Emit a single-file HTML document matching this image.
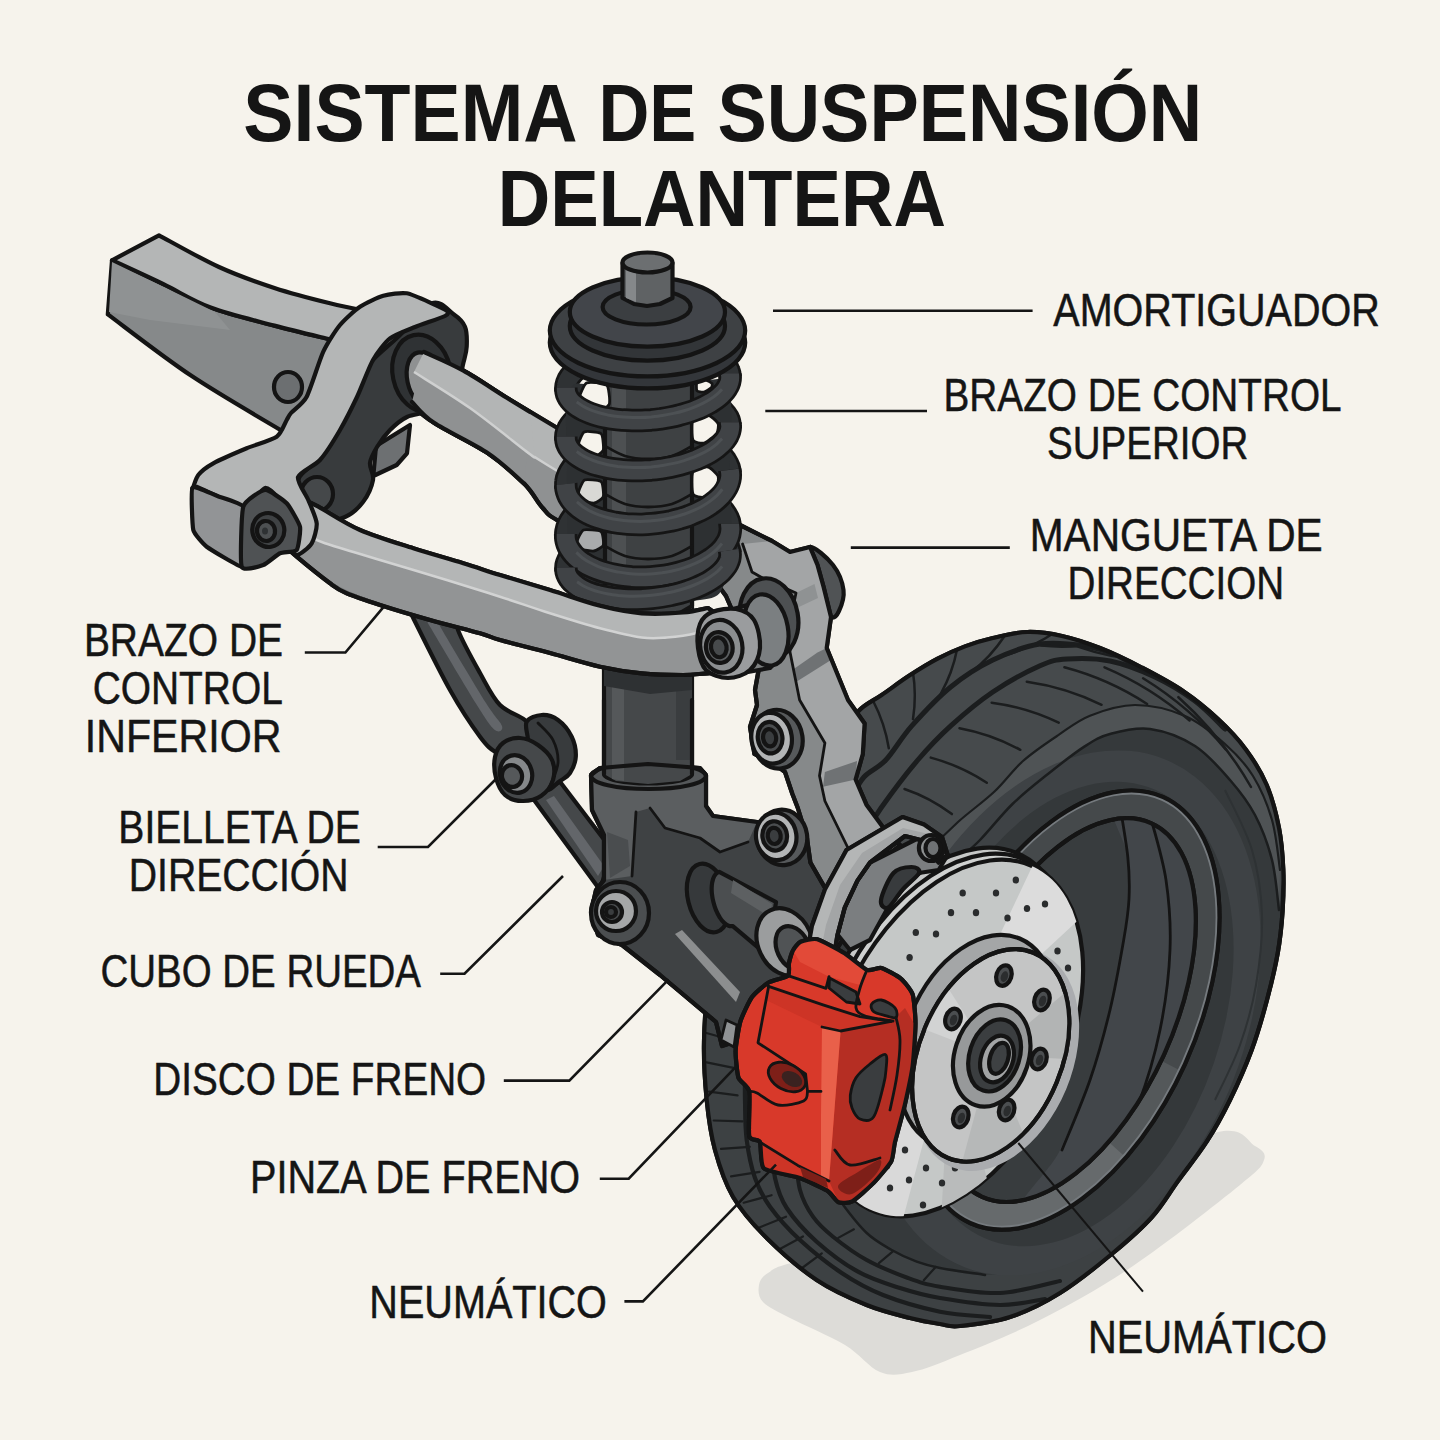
<!DOCTYPE html>
<html lang="es">
<head>
<meta charset="utf-8">
<title>Sistema de suspensión delantera</title>
<style>
html,body{margin:0;padding:0;background:#f6f3ec;}
body{width:1440px;height:1440px;overflow:hidden;font-family:"Liberation Sans",sans-serif;}
svg{display:block;font-family:"Liberation Sans",sans-serif;}
.o{stroke:#141414;stroke-width:4.2;stroke-linejoin:round;stroke-linecap:round;}
.t{stroke:#141414;stroke-width:2.8;stroke-linejoin:round;stroke-linecap:round;}
.ld{stroke:#151515;stroke-width:2.6;fill:none;stroke-linejoin:miter;stroke-linecap:butt;}
</style>
</head>
<body>
<svg width="1440" height="1440" viewBox="0 0 1440 1440">
<rect x="0" y="0" width="1440" height="1440" fill="#f6f3ec"/>
<path d="M759 1285C759.8 1280.2 762 1276.8 768 1273C774 1269.2 773 1267.5 795 1262C817 1256.5 849.2 1253.7 900 1240C950.8 1226.3 1047 1198 1100 1180C1153 1162 1192.2 1137.7 1218 1132C1243.8 1126.3 1247.3 1141.3 1255 1146C1262.7 1150.7 1266.5 1153.5 1264 1160C1261.5 1166.5 1261.8 1167.3 1240 1185C1218.2 1202.7 1166.3 1243.5 1133 1266C1099.7 1288.5 1068.8 1305.2 1040 1320C1011.2 1334.8 981.3 1346.3 960 1355C938.7 1363.7 925.3 1369.2 912 1372C898.7 1374.8 891.2 1376.5 880 1372C868.8 1367.5 860 1354 845 1345C830 1336 803.7 1325.2 790 1318C776.3 1310.8 768.2 1307.5 763 1302C757.8 1296.5 758.2 1289.8 759 1285Z" fill="#dddcd8"/>
<path d="M860.8 708.9C866.4 703.7 873.6 700.5 881.7 695C889.8 689.5 900.1 681.6 909.4 675.6C918.6 669.6 927.9 663.8 937.2 658.9C946.5 654 955.7 649.9 965 646.4C974.3 642.9 982.4 640.4 992.8 638C1003.2 635.6 1016 632.3 1027.5 632C1039 631.7 1049.9 633.3 1062 636C1074.1 638.7 1086.7 642.8 1100 648C1113.3 653.2 1127.9 660.3 1141.7 667.5C1155.5 674.7 1170.3 682.4 1183 691C1195.7 699.6 1207.5 709.3 1218 719C1228.5 728.7 1237.7 738.4 1245.8 749.4C1253.9 760.4 1261.2 771.9 1266.7 785C1272.2 798.1 1276.2 813.7 1279 827.8C1281.8 841.9 1282.7 855.5 1283.3 869.4C1283.9 883.3 1283.5 897.1 1282.6 911C1281.7 924.9 1280.4 938 1277.8 952.8C1275.2 967.6 1271.3 983.8 1267 1000C1262.7 1016.2 1257.9 1033.3 1251.7 1050C1245.5 1066.7 1237.5 1084.7 1230 1100C1222.5 1115.3 1215.4 1128.2 1206.7 1141.7C1198 1155.2 1187.1 1168.5 1178 1181C1168.9 1193.5 1162.8 1205 1152 1217C1141.2 1229 1128.3 1240.3 1113 1253C1097.7 1265.7 1077.2 1282.3 1060 1293C1042.8 1303.7 1026.7 1311.5 1010 1317C993.3 1322.5 971.7 1324.8 960 1326C948.3 1327.2 948.3 1325.3 940 1324C931.7 1322.7 922.2 1321.2 910 1318C897.8 1314.8 882.2 1311.3 866.7 1305C851.2 1298.7 833.4 1291.2 816.7 1280C800 1268.8 780.7 1251.9 766.7 1238C752.8 1224.1 741.6 1211.4 733 1196.7C724.4 1182 719.4 1166.1 715 1150C710.6 1133.9 708.5 1118 706.7 1100C704.9 1082 703.6 1061.5 704 1042C704.4 1022.5 705.3 1002.5 709 983C712.7 963.5 717.5 944.2 726 925C734.5 905.8 747.3 886.8 760 868C772.7 849.2 790.7 828.7 802 812C813.3 795.3 820.3 782.3 828 768C835.7 753.7 842.5 735.9 848 726C853.5 716.1 855.2 714.1 860.8 708.9Z" class="o" fill="#35393b"/>
<clipPath id="tc"><path d="M860.8 708.9C866.4 703.7 873.6 700.5 881.7 695C889.8 689.5 900.1 681.6 909.4 675.6C918.6 669.6 927.9 663.8 937.2 658.9C946.5 654 955.7 649.9 965 646.4C974.3 642.9 982.4 640.4 992.8 638C1003.2 635.6 1016 632.3 1027.5 632C1039 631.7 1049.9 633.3 1062 636C1074.1 638.7 1086.7 642.8 1100 648C1113.3 653.2 1127.9 660.3 1141.7 667.5C1155.5 674.7 1170.3 682.4 1183 691C1195.7 699.6 1207.5 709.3 1218 719C1228.5 728.7 1237.7 738.4 1245.8 749.4C1253.9 760.4 1261.2 771.9 1266.7 785C1272.2 798.1 1276.2 813.7 1279 827.8C1281.8 841.9 1282.7 855.5 1283.3 869.4C1283.9 883.3 1283.5 897.1 1282.6 911C1281.7 924.9 1280.4 938 1277.8 952.8C1275.2 967.6 1271.3 983.8 1267 1000C1262.7 1016.2 1257.9 1033.3 1251.7 1050C1245.5 1066.7 1237.5 1084.7 1230 1100C1222.5 1115.3 1215.4 1128.2 1206.7 1141.7C1198 1155.2 1187.1 1168.5 1178 1181C1168.9 1193.5 1162.8 1205 1152 1217C1141.2 1229 1128.3 1240.3 1113 1253C1097.7 1265.7 1077.2 1282.3 1060 1293C1042.8 1303.7 1026.7 1311.5 1010 1317C993.3 1322.5 971.7 1324.8 960 1326C948.3 1327.2 948.3 1325.3 940 1324C931.7 1322.7 922.2 1321.2 910 1318C897.8 1314.8 882.2 1311.3 866.7 1305C851.2 1298.7 833.4 1291.2 816.7 1280C800 1268.8 780.7 1251.9 766.7 1238C752.8 1224.1 741.6 1211.4 733 1196.7C724.4 1182 719.4 1166.1 715 1150C710.6 1133.9 708.5 1118 706.7 1100C704.9 1082 703.6 1061.5 704 1042C704.4 1022.5 705.3 1002.5 709 983C712.7 963.5 717.5 944.2 726 925C734.5 905.8 747.3 886.8 760 868C772.7 849.2 790.7 828.7 802 812C813.3 795.3 820.3 782.3 828 768C835.7 753.7 842.5 735.9 848 726C853.5 716.1 855.2 714.1 860.8 708.9Z"/></clipPath>
<g clip-path="url(#tc)">
<path d="M751.3 833C753.7 828.9 760.5 816.6 765.4 808.6C770.3 800.6 775.5 792.8 780.8 785.2C786.2 777.6 791.8 770.2 797.5 763C803.3 755.8 809.3 748.8 815.4 742.1C821.5 735.4 827.9 728.8 834.4 722.6C840.8 716.3 847.5 710.3 854.3 704.6C861.1 698.9 868 693.4 875 688.3C882.1 683.1 889.2 678.2 896.5 673.6C903.7 669.1 911.1 664.8 918.5 660.9C925.9 656.9 933.5 653.3 941 650C948.6 646.7 956.2 643.7 963.8 641C971.5 638.4 979.1 636.1 986.8 634.1C994.5 632.1 1002.2 630.5 1009.9 629.3C1017.5 628 1025.2 627.1 1032.8 626.5C1040.4 625.9 1048 625.7 1055.5 625.8C1063 625.9 1070.5 626.4 1077.8 627.3C1085.2 628.1 1092.5 629.3 1099.7 630.8C1106.9 632.3 1113.9 634.2 1120.9 636.4C1127.8 638.6 1134.7 641.2 1141.3 644.1C1148 647 1154.5 650.2 1160.9 653.7C1167.3 657.3 1173.5 661.2 1179.5 665.3C1185.5 669.5 1191.3 674 1196.9 678.8C1202.5 683.6 1208 688.7 1213.2 694.1C1218.4 699.4 1223.3 705.1 1228.1 711C1232.8 716.9 1237.4 723.1 1241.6 729.6C1245.9 736 1249.9 742.7 1253.7 749.6C1257.4 756.5 1260.9 763.7 1264.2 771C1267.4 778.4 1270.4 786 1273 793.7C1275.7 801.4 1278.1 809.4 1280.2 817.4C1282.4 825.5 1284.8 838 1285.7 842.2L1279 910C1277.8 901.7 1276 875.8 1272 860C1268 844.2 1262 828.3 1255 815C1248 801.7 1240 791.5 1230 780C1220 768.5 1208.3 754.5 1195 746C1181.7 737.5 1164.2 731 1150 729C1135.8 727 1120.9 731.1 1110 734C1099.1 736.9 1094.9 739.8 1084.7 746.4C1074.5 753 1060.6 763.9 1048.6 773.5C1036.6 783.1 1023.9 792.9 1012.5 804C1001.1 815.1 990.4 829.3 980 840C969.6 850.7 959.2 858 950 868C940.8 878 929.2 894.7 925 900Z" fill="#464a4c"/>
<path d="M1203 1176.6C1199.8 1180.7 1190.4 1193.2 1183.8 1201.2C1177.1 1209.1 1170.2 1216.7 1163 1224.1C1155.9 1231.4 1148.5 1238.4 1141 1245.1C1133.5 1251.8 1125.8 1258.1 1117.9 1264.1C1110 1270.1 1102 1275.7 1093.8 1280.9C1085.7 1286.1 1077.3 1291 1069 1295.4C1060.6 1299.9 1052.1 1303.9 1043.6 1307.5C1035 1311.1 1026.4 1314.3 1017.8 1317.1C1009.2 1319.9 1000.5 1322.2 991.8 1324.1C983.2 1326 974.5 1327.5 965.9 1328.5C957.3 1329.5 948.7 1330.1 940.1 1330.2C931.6 1330.3 923.2 1330 914.8 1329.2C906.5 1328.5 898.2 1327.2 890.1 1325.6C882 1323.9 874 1321.8 866.2 1319.3C858.4 1316.8 850.7 1313.8 843.2 1310.4C835.8 1307 828.5 1303.2 821.4 1299C814.4 1294.8 807.5 1290.1 800.9 1285.1C794.3 1280.1 788 1274.7 781.9 1268.9C775.8 1263.2 770 1257 764.5 1250.5C759 1244 753.7 1237.2 748.8 1230C743.9 1222.9 739.3 1215.4 735 1207.6C730.7 1199.9 726.8 1191.8 723.2 1183.5C719.6 1175.2 716.3 1166.6 713.4 1157.8C710.5 1149 708 1139.9 705.8 1130.7C703.6 1121.4 701.8 1112 700.3 1102.4C698.9 1092.8 697.8 1083.1 697.1 1073.2C696.5 1063.4 696.1 1053.4 696.2 1043.3C696.3 1033.3 696.7 1023.1 697.5 1012.9C698.3 1002.7 699.5 992.4 701.1 982.2C702.7 972 705.9 956.6 706.9 951.5L760 1000L800 1120C803.3 1128.3 813 1156.2 820 1170C827 1183.8 833.9 1192.5 841.7 1203C849.5 1213.5 858.4 1225.2 866.7 1233C875 1240.8 883.4 1245.2 891.7 1250C900 1254.8 908.7 1258.7 916.7 1261.7C924.8 1264.7 928.6 1265.8 940 1268C951.4 1270.2 965 1275.5 985 1275C1005 1274.5 1037.5 1273.3 1060 1265C1082.5 1256.7 1101.7 1240.8 1120 1225C1138.3 1209.2 1161.7 1179.2 1170 1170Z" fill="#3d4143"/>
<path d="M905 880C909.2 875 921.2 859.7 930 850C938.8 840.3 947.2 831.8 958 822C968.8 812.2 983.7 801.7 994.5 791.5C1005.3 781.3 1012.5 770.3 1023 761C1033.5 751.7 1046.4 743.1 1057.6 735.6C1068.8 728.1 1077.1 720.8 1090 715.7C1102.9 710.6 1119.2 705 1135 705C1150.8 705 1170 709.5 1185 716C1200 722.5 1213.7 734 1225 744C1236.3 754 1245.2 763.3 1253 776C1260.8 788.7 1267.5 804.3 1272 820C1276.5 835.7 1278.7 861.7 1280 870L1279 910C1277.8 901.7 1276 875.8 1272 860C1268 844.2 1262 828.3 1255 815C1248 801.7 1240 791.5 1230 780C1220 768.5 1208.3 754.5 1195 746C1181.7 737.5 1164.2 731 1150 729C1135.8 727 1120.9 731.1 1110 734C1099.1 736.9 1094.9 739.8 1084.7 746.4C1074.5 753 1060.6 763.9 1048.6 773.5C1036.6 783.1 1023.9 792.9 1012.5 804C1001.1 815.1 990.4 829.3 980 840C969.6 850.7 959.2 858 950 868C940.8 878 929.2 894.7 925 900Z" fill="#4f5355"/>
<ellipse cx="1064" cy="1013" rx="273" ry="182" transform="rotate(-68.5 1064 1013)" fill="#3e4245"/>
<ellipse cx="1070" cy="1014" rx="240" ry="152" transform="rotate(-71 1070 1014)" fill="#34383a"/>
<path d="M1225 790C1229.5 800 1245.8 829.2 1252 850C1258.2 870.8 1261.3 892.5 1262 915C1262.7 937.5 1259.7 963.3 1256 985C1252.3 1006.7 1246.8 1025.8 1240 1045C1233.2 1064.2 1219.2 1090.8 1215 1100" fill="none" stroke="#2e3234" stroke-width="2"/>
<path d="M850 800C852.3 796.2 858 783.7 864 777C870 770.3 877.8 768.6 885.8 760C893.8 751.4 901.1 737.8 912 725.6C922.9 713.4 937.5 697.6 951 686.7C964.5 675.8 978 667.1 992.8 660C1007.6 652.9 1024.6 646.3 1040 644C1055.4 641.7 1071.7 644 1085 646C1098.3 648 1109.2 651.8 1120 656C1130.8 660.2 1145 668.5 1150 671" fill="none" stroke="#1b1d1e" stroke-width="5" stroke-linecap="round"/>
<path d="M868 830C870.2 826.3 872.7 819.7 881 808C889.3 796.3 906.1 773.7 917.8 760C929.5 746.3 938.5 736.9 951 725.6C963.5 714.3 978 702 992.8 692C1007.6 682 1027.6 671.3 1040 665.8C1052.4 660.3 1055.3 659.8 1067 659C1078.7 658.2 1095.3 658 1110 661C1124.7 664 1140.8 670.3 1155 677C1169.2 683.7 1183.3 692.3 1195 701C1206.7 709.7 1220 724.3 1225 729" fill="none" stroke="#1b1d1e" stroke-width="5" stroke-linecap="round"/>
<path d="M745 1020C745 1026.7 745 1046.7 745 1060C745 1073.3 744.7 1086.7 745 1100C745.3 1113.3 745 1127 746.7 1140C748.4 1153 751.1 1166.9 755 1178C758.9 1189.1 762.5 1196.4 770 1206.7C777.5 1217 788 1229 800 1240C812 1251 827.9 1263.8 841.7 1273C855.5 1282.2 866.6 1288.5 883 1295C899.4 1301.5 922.2 1308 940 1311.7C957.8 1315.4 981.7 1316.1 990 1317" fill="none" stroke="#1b1d1e" stroke-width="4.2" stroke-linecap="round"/>
<path d="M772 1140C772.5 1146.3 772.5 1166.7 775 1178C777.5 1189.3 779.8 1197.4 786.7 1208C793.7 1218.6 804.8 1231.1 816.7 1241.7C828.6 1252.3 844.1 1264 858 1271.7C871.9 1279.4 886.3 1283.6 900 1288C913.7 1292.4 923.3 1295.2 940 1298C956.7 1300.8 982.5 1304.8 1000 1305C1017.5 1305.2 1037.5 1300 1045 1299" fill="none" stroke="#1b1d1e" stroke-width="4.2" stroke-linecap="round"/>
<path d="M795 1150C795.8 1156.7 797 1178.9 800 1190C803 1201.1 807.5 1208.9 813 1216.7C818.5 1224.5 824 1229.5 833 1236.7C842 1243.9 854.2 1253.1 866.7 1260C879.2 1266.9 895.8 1273.5 908 1278C920.2 1282.5 924.7 1284.2 940 1286.7C955.3 1289.2 980 1294 1000 1293C1020 1292 1050 1283 1060 1281" fill="none" stroke="#1b1d1e" stroke-width="4" stroke-linecap="round"/>
<path d="M905 880C909.2 875 921.2 859.7 930 850C938.8 840.3 947.2 831.8 958 822C968.8 812.2 983.7 801.7 994.5 791.5C1005.3 781.3 1012.5 770.3 1023 761C1033.5 751.7 1046.4 743.1 1057.6 735.6C1068.8 728.1 1077.1 720.8 1090 715.7C1102.9 710.6 1119.2 705 1135 705C1150.8 705 1170 709.5 1185 716C1200 722.5 1213.7 734 1225 744C1236.3 754 1245.2 763.3 1253 776C1260.8 788.7 1267.5 804.3 1272 820C1276.5 835.7 1278.7 861.7 1280 870" fill="none" stroke="#1b1d1e" stroke-width="2.2" stroke-linecap="round"/>
<path d="M925 900C929.2 894.7 940.8 878 950 868C959.2 858 969.6 850.7 980 840C990.4 829.3 1001.1 815.1 1012.5 804C1023.9 792.9 1036.6 783.1 1048.6 773.5C1060.6 763.9 1074.5 753 1084.7 746.4C1094.9 739.8 1099.1 736.9 1110 734C1120.9 731.1 1135.8 727 1150 729C1164.2 731 1181.7 737.5 1195 746C1208.3 754.5 1220 768.5 1230 780C1240 791.5 1248 801.7 1255 815C1262 828.3 1268 844.2 1272 860C1276 875.8 1277.8 901.7 1279 910" fill="none" stroke="#1b1d1e" stroke-width="2.5" stroke-linecap="round"/>
<path d="M800 1120C803.3 1128.3 813 1156.2 820 1170C827 1183.8 833.9 1192.5 841.7 1203C849.5 1213.5 858.4 1225.2 866.7 1233C875 1240.8 883.4 1245.2 891.7 1250C900 1254.8 908.7 1258.7 916.7 1261.7C924.8 1264.7 928.6 1265.8 940 1268C951.4 1270.2 977.5 1273.8 985 1275" fill="none" stroke="#1b1d1e" stroke-width="2.5" stroke-linecap="round"/>
<path d="M873.3 701.3Q884.8 723.5 888.8 748.2" fill="none" stroke="#1b1d1e" stroke-width="2.5" stroke-linecap="round"/>
<path d="M912.9 671.8Q916.7 695.5 913 719.1" fill="none" stroke="#1b1d1e" stroke-width="2.5" stroke-linecap="round"/>
<path d="M957 649.6Q952.5 672.9 940.9 693.5" fill="none" stroke="#1b1d1e" stroke-width="2.5" stroke-linecap="round"/>
<path d="M1004.4 636.2Q990.8 656.7 971.5 671.9" fill="none" stroke="#1b1d1e" stroke-width="2.5" stroke-linecap="round"/>
<path d="M1053.5 633.3Q1031 648.1 1005 655.2" fill="none" stroke="#1b1d1e" stroke-width="2.5" stroke-linecap="round"/>
<path d="M1101.8 642.5Q1071.8 648.9 1041.2 645.6" fill="none" stroke="#1b1d1e" stroke-width="2.5" stroke-linecap="round"/>
<path d="M1148 660Q1112.2 659 1078.6 646.9" fill="none" stroke="#1b1d1e" stroke-width="2.5" stroke-linecap="round"/>
<path d="M1189.9 685.7Q1150.1 676.6 1115.1 655.6" fill="none" stroke="#1b1d1e" stroke-width="2.5" stroke-linecap="round"/>
<path d="M904.5 789Q930.2 797.7 951.9 814.1" fill="none" stroke="#1b1d1e" stroke-width="2.5" stroke-linecap="round"/>
<path d="M930.8 757.6Q960.8 765.7 986.8 782.7" fill="none" stroke="#1b1d1e" stroke-width="2.5" stroke-linecap="round"/>
<path d="M959.5 728.2Q991.6 734.1 1020.3 749.8" fill="none" stroke="#1b1d1e" stroke-width="2.5" stroke-linecap="round"/>
<path d="M991.7 702.7Q1026.8 707.3 1058.7 722.7" fill="none" stroke="#1b1d1e" stroke-width="2.5" stroke-linecap="round"/>
<path d="M1026.8 681.7Q1066 687.3 1101.6 704.8" fill="none" stroke="#1b1d1e" stroke-width="2.5" stroke-linecap="round"/>
<path d="M1064.4 667.3Q1108.7 679 1147.1 704" fill="none" stroke="#1b1d1e" stroke-width="2.5" stroke-linecap="round"/>
<path d="M1104.5 667.3Q1151.3 687.1 1189.6 720.5" fill="none" stroke="#1b1d1e" stroke-width="2.5" stroke-linecap="round"/>
<path d="M1143.1 678.3Q1190 707.2 1225.5 749.2" fill="none" stroke="#1b1d1e" stroke-width="2.5" stroke-linecap="round"/>
<path d="M1178.4 697.2Q1221.9 736.3 1251 787" fill="none" stroke="#1b1d1e" stroke-width="2.5" stroke-linecap="round"/>
<path d="M706.4 1033L734.2 1040.8" fill="none" stroke="#1b1d1e" stroke-width="2.2" stroke-linecap="round"/>
<path d="M706.6 1062.3L734.8 1068.2" fill="none" stroke="#1b1d1e" stroke-width="2.2" stroke-linecap="round"/>
<path d="M709 1091.6L737.6 1095.3" fill="none" stroke="#1b1d1e" stroke-width="2.2" stroke-linecap="round"/>
<path d="M713.7 1120.5L742.6 1121.3" fill="none" stroke="#1b1d1e" stroke-width="2.2" stroke-linecap="round"/>
<path d="M721 1148.8L749.8 1146.8" fill="none" stroke="#1b1d1e" stroke-width="2.2" stroke-linecap="round"/>
<path d="M731 1176.4L759.6 1171.9" fill="none" stroke="#1b1d1e" stroke-width="2.2" stroke-linecap="round"/>
<path d="M743.7 1202.7L771.6 1195.2" fill="none" stroke="#1b1d1e" stroke-width="2.2" stroke-linecap="round"/>
<path d="M759.3 1227.5L786 1216.7" fill="none" stroke="#1b1d1e" stroke-width="2.2" stroke-linecap="round"/>
<path d="M777.6 1250.3L803 1236.5" fill="none" stroke="#1b1d1e" stroke-width="2.2" stroke-linecap="round"/>
<path d="M798.7 1270.5L821.8 1253.3" fill="none" stroke="#1b1d1e" stroke-width="2.2" stroke-linecap="round"/>
<path d="M838.2 1237.9L853.9 1229.3" fill="none" stroke="#1b1d1e" stroke-width="2.2" stroke-linecap="round"/>
<path d="M878.9 1263.1L892.6 1251.7" fill="none" stroke="#1b1d1e" stroke-width="2.2" stroke-linecap="round"/>
<path d="M923.8 1280.2L935.7 1266.9" fill="none" stroke="#1b1d1e" stroke-width="2.2" stroke-linecap="round"/>
</g>
<path d="M860.8 708.9C866.4 703.7 873.6 700.5 881.7 695C889.8 689.5 900.1 681.6 909.4 675.6C918.6 669.6 927.9 663.8 937.2 658.9C946.5 654 955.7 649.9 965 646.4C974.3 642.9 982.4 640.4 992.8 638C1003.2 635.6 1016 632.3 1027.5 632C1039 631.7 1049.9 633.3 1062 636C1074.1 638.7 1086.7 642.8 1100 648C1113.3 653.2 1127.9 660.3 1141.7 667.5C1155.5 674.7 1170.3 682.4 1183 691C1195.7 699.6 1207.5 709.3 1218 719C1228.5 728.7 1237.7 738.4 1245.8 749.4C1253.9 760.4 1261.2 771.9 1266.7 785C1272.2 798.1 1276.2 813.7 1279 827.8C1281.8 841.9 1282.7 855.5 1283.3 869.4C1283.9 883.3 1283.5 897.1 1282.6 911C1281.7 924.9 1280.4 938 1277.8 952.8C1275.2 967.6 1271.3 983.8 1267 1000C1262.7 1016.2 1257.9 1033.3 1251.7 1050C1245.5 1066.7 1237.5 1084.7 1230 1100C1222.5 1115.3 1215.4 1128.2 1206.7 1141.7C1198 1155.2 1187.1 1168.5 1178 1181C1168.9 1193.5 1162.8 1205 1152 1217C1141.2 1229 1128.3 1240.3 1113 1253C1097.7 1265.7 1077.2 1282.3 1060 1293C1042.8 1303.7 1026.7 1311.5 1010 1317C993.3 1322.5 971.7 1324.8 960 1326C948.3 1327.2 948.3 1325.3 940 1324C931.7 1322.7 922.2 1321.2 910 1318C897.8 1314.8 882.2 1311.3 866.7 1305C851.2 1298.7 833.4 1291.2 816.7 1280C800 1268.8 780.7 1251.9 766.7 1238C752.8 1224.1 741.6 1211.4 733 1196.7C724.4 1182 719.4 1166.1 715 1150C710.6 1133.9 708.5 1118 706.7 1100C704.9 1082 703.6 1061.5 704 1042C704.4 1022.5 705.3 1002.5 709 983C712.7 963.5 717.5 944.2 726 925C734.5 905.8 747.3 886.8 760 868C772.7 849.2 790.7 828.7 802 812C813.3 795.3 820.3 782.3 828 768C835.7 753.7 842.5 735.9 848 726C853.5 716.1 855.2 714.1 860.8 708.9Z" class="o" fill="none"/>
<ellipse cx="1066.7" cy="1010.1" rx="233.8" ry="130" transform="rotate(-65.6 1066.7 1010.1)" class="o" fill="#45494b" stroke-width="2.8"/>
<clipPath id="rc"><ellipse cx="1066.7" cy="1010.1" rx="233.8" ry="130" transform="rotate(-65.6 1066.7 1010.1)"/></clipPath>
<g clip-path="url(#rc)">
<path d="M1181.6 1071.2C1179.7 1074.9 1174.2 1086.2 1170.2 1093.5C1166.1 1100.8 1161.9 1107.9 1157.5 1114.8C1153.1 1121.8 1148.5 1128.5 1143.8 1135C1139 1141.4 1134.1 1147.7 1129.1 1153.6C1124.2 1159.6 1119 1165.3 1113.8 1170.7C1108.6 1176 1103.3 1181.1 1097.9 1185.8C1092.6 1190.5 1087.1 1194.9 1081.7 1199C1076.2 1203 1070.7 1206.6 1065.3 1209.9C1059.8 1213.2 1054.3 1216.1 1048.9 1218.5C1043.4 1221 1038 1223.1 1032.7 1224.7C1027.3 1226.4 1022 1227.7 1016.9 1228.5C1011.7 1229.3 1006.6 1229.7 1001.6 1229.7C996.7 1229.7 991.8 1229.2 987.2 1228.4C982.5 1227.5 977.9 1226.2 973.6 1224.5C969.3 1222.8 965.1 1220.7 961.1 1218.1C957.2 1215.6 953.4 1212.7 949.9 1209.4C946.3 1206.1 943 1202.4 940 1198.3C936.9 1194.3 934.1 1189.9 931.5 1185.1C929 1180.4 926.7 1175.2 924.7 1169.8C922.6 1164.5 920.9 1158.7 919.4 1152.7C918 1146.8 916.8 1140.5 915.9 1134C915 1127.5 914.4 1120.7 914.1 1113.8C913.8 1106.9 913.8 1099.7 914.1 1092.4C914.4 1085.1 915.6 1073.8 915.9 1070.1" fill="none" stroke="#54585a" stroke-width="62"/>
<path d="M1125.9 1157.5C1124.1 1159.5 1118.7 1165.5 1115.1 1169.4C1111.4 1173.2 1107.7 1176.8 1104 1180.3C1100.3 1183.8 1096.5 1187.2 1092.7 1190.3C1088.9 1193.5 1085.1 1196.5 1081.2 1199.3C1077.4 1202.1 1073.5 1204.7 1069.7 1207.2C1065.9 1209.6 1062 1211.9 1058.1 1213.9C1054.3 1216 1050.5 1217.8 1046.6 1219.5C1042.8 1221.2 1039 1222.6 1035.3 1223.9C1031.5 1225.2 1027.7 1226.2 1024.1 1227.1C1020.4 1227.9 1016.7 1228.6 1013.1 1229C1009.5 1229.4 1005.9 1229.7 1002.4 1229.7C998.9 1229.7 995.5 1229.5 992.1 1229.1C988.8 1228.7 985.5 1228.1 982.3 1227.3C979.1 1226.5 975.9 1225.4 972.9 1224.2C969.9 1223 966.9 1221.5 964.1 1219.9C961.2 1218.3 958.4 1216.4 955.8 1214.4C953.1 1212.4 950.6 1210.2 948.2 1207.8C945.7 1205.4 943.4 1202.7 941.2 1200C939 1197.2 936.9 1194.2 935 1191.1C933 1188 931.2 1184.6 929.5 1181.2C927.8 1177.7 926.3 1174.1 924.8 1170.3C923.4 1166.5 922.1 1162.6 920.9 1158.5C919.8 1154.4 918.8 1150.2 917.9 1145.8C917 1141.5 916.1 1134.6 915.7 1132.4" fill="none" stroke="#666a6c" stroke-width="62"/>
</g>
<ellipse cx="1066.7" cy="1010.1" rx="231.3" ry="127.5" transform="rotate(-65.6 1066.7 1010.1)" fill="none" stroke="#757a7e" stroke-width="3"/>
<ellipse cx="1066.7" cy="1010.1" rx="233.8" ry="130" transform="rotate(-65.6 1066.7 1010.1)" class="o" fill="none" stroke-width="2.8"/>
<ellipse cx="1066.7" cy="1010.1" rx="205" ry="107" transform="rotate(-65.6 1066.7 1010.1)" class="o" fill="#383c3e" stroke-width="2.8"/>
<clipPath id="bc"><ellipse cx="1066.7" cy="1010.1" rx="205" ry="107" transform="rotate(-65.6 1066.7 1010.1)"/></clipPath>
<g clip-path="url(#bc)">
<path d="M1119 790C1097 801.2 1126.1 838.8 1127.8 857C1129.5 875.2 1129.7 885.1 1129 899C1128.3 912.9 1126.8 922.1 1123.6 940.6C1120.4 959.1 1115.6 986.8 1110 1010C1104.4 1033.2 1098.3 1056.7 1090 1080C1081.7 1103.3 1071.7 1123.3 1060 1150C1048.3 1176.7 986.7 1225 1020 1240C1053.3 1255 1220 1315 1260 1240C1300 1165 1283.5 865 1260 790C1236.5 715 1141 778.8 1119 790Z" fill="#42464a"/>
<path d="M1119 800C1120.5 809.5 1126.1 840.5 1127.8 857C1129.5 873.5 1129.7 885.1 1129 899C1128.3 912.9 1126.8 922.1 1123.6 940.6C1120.4 959.1 1115.6 986.8 1110 1010C1104.4 1033.2 1098 1056.7 1090 1080C1082 1103.3 1066.7 1138.3 1062 1150" class="t" fill="none"/>
<path d="M1150 815C1152.7 825.8 1162.7 857.5 1166 880C1169.3 902.5 1171 925 1170 950C1169 975 1165.3 1004.2 1160 1030C1154.7 1055.8 1146.7 1082.5 1138 1105C1129.3 1127.5 1113 1155 1108 1165" class="t" fill="none"/>
</g>
<ellipse cx="1066.7" cy="1010.1" rx="205" ry="107" transform="rotate(-65.6 1066.7 1010.1)" class="o" fill="none" stroke-width="2.8"/>
<ellipse cx="938.5" cy="1026" rx="190" ry="114" transform="rotate(-64.4 938.5 1026)" class="o" fill="#c6c8c7"/>
<ellipse cx="945" cy="1032" rx="190" ry="114" transform="rotate(-64.4 945 1032)" class="o" fill="#cfd1d0" stroke-width="3.4"/>
<ellipse cx="951.4" cy="1038" rx="190" ry="114.2" transform="rotate(-64.4 951.4 1038)" class="o" fill="#c5c8c7" stroke-width="3.2"/>
<clipPath id="dc"><ellipse cx="951.4" cy="1038" rx="190" ry="114.2" transform="rotate(-64.4 951.4 1038)"/></clipPath>
<g clip-path="url(#dc)">
<path d="M951 1038L1040 850L1100 900Z" fill="#dcdcdc"/>
<path d="M951 1038L900 1230L830 1200Z" fill="#d9d9d9"/>
<path d="M951 1038L1100 1020L1090 1110Z" fill="#b4b6b6"/>
<path d="M951 1038L1000 1230L940 1240Z" fill="#b9bbbb"/>
</g>
<ellipse cx="1015.8" cy="880" rx="3.2" ry="3.6" fill="#2a2c2d"/>
<ellipse cx="962.7" cy="893" rx="3.2" ry="3.6" fill="#2a2c2d"/>
<ellipse cx="996" cy="893" rx="3.2" ry="3.6" fill="#2a2c2d"/>
<ellipse cx="1045" cy="904" rx="3.2" ry="3.6" fill="#2a2c2d"/>
<ellipse cx="1027" cy="908.5" rx="3.2" ry="3.6" fill="#2a2c2d"/>
<ellipse cx="951" cy="912.7" rx="3.2" ry="3.6" fill="#2a2c2d"/>
<ellipse cx="976" cy="912.7" rx="3.2" ry="3.6" fill="#2a2c2d"/>
<ellipse cx="1007.5" cy="918" rx="3.2" ry="3.6" fill="#2a2c2d"/>
<ellipse cx="915.8" cy="932.5" rx="3.2" ry="3.6" fill="#2a2c2d"/>
<ellipse cx="936" cy="934" rx="3.2" ry="3.6" fill="#2a2c2d"/>
<ellipse cx="909.6" cy="957.5" rx="3.2" ry="3.6" fill="#2a2c2d"/>
<ellipse cx="1057.5" cy="951" rx="3.2" ry="3.6" fill="#2a2c2d"/>
<ellipse cx="1068" cy="968" rx="3.2" ry="3.6" fill="#2a2c2d"/>
<ellipse cx="890" cy="1188" rx="3.2" ry="3.6" fill="#2a2c2d"/>
<ellipse cx="909" cy="1180" rx="3.2" ry="3.6" fill="#2a2c2d"/>
<ellipse cx="926" cy="1168" rx="3.2" ry="3.6" fill="#2a2c2d"/>
<ellipse cx="955" cy="1168" rx="3.2" ry="3.6" fill="#2a2c2d"/>
<ellipse cx="942" cy="1183" rx="3.2" ry="3.6" fill="#2a2c2d"/>
<ellipse cx="923" cy="1205" rx="3.2" ry="3.6" fill="#2a2c2d"/>
<ellipse cx="887" cy="1166" rx="3.2" ry="3.6" fill="#2a2c2d"/>
<ellipse cx="905" cy="1150" rx="3.2" ry="3.6" fill="#2a2c2d"/>
<ellipse cx="996" cy="1060" rx="116" ry="76" transform="rotate(-67.4 996 1060)" fill="#aaacaf"/>
<ellipse cx="977" cy="1041" rx="111" ry="71.5" transform="rotate(-67.4 977 1041)" class="o" fill="#a4a6a7"/>
<ellipse cx="990.7" cy="1055.4" rx="111.2" ry="71.3" transform="rotate(-67.4 990.7 1055.4)" class="o" fill="#c4c5c5"/>
<clipPath id="hc"><ellipse cx="990.7" cy="1055.4" rx="111.2" ry="71.3" transform="rotate(-67.4 990.7 1055.4)"/></clipPath>
<g clip-path="url(#hc)">
<path d="M991 1055L1080 980L1085 1060Z" fill="#b2b4b4"/>
<path d="M991 1055L900 1020L930 960Z" fill="#d2d3d3"/>
<path d="M991 1055L960 1170L1030 1150Z" fill="#b6b8b8"/>
</g>
<ellipse cx="990.7" cy="1055.4" rx="111.2" ry="71.3" transform="rotate(-67.4 990.7 1055.4)" class="o" fill="none"/>
<ellipse cx="1003.9" cy="975.6" rx="7.5" ry="10.5" transform="rotate(18 1003.9 975.6)" class="o" fill="#4b4e50" stroke-width="2"/>
<ellipse cx="1004.4" cy="976.6" rx="3.5" ry="5.5" transform="rotate(18 1004.4 976.6)" fill="#2b2d2e"/>
<ellipse cx="1042" cy="1000" rx="7.5" ry="10.5" transform="rotate(18 1042 1000)" class="o" fill="#4b4e50" stroke-width="2"/>
<ellipse cx="1042.5" cy="1001" rx="3.5" ry="5.5" transform="rotate(18 1042.5 1001)" fill="#2b2d2e"/>
<ellipse cx="1039" cy="1059" rx="7.5" ry="10.5" transform="rotate(18 1039 1059)" class="o" fill="#4b4e50" stroke-width="2"/>
<ellipse cx="1039.5" cy="1060" rx="3.5" ry="5.5" transform="rotate(18 1039.5 1060)" fill="#2b2d2e"/>
<ellipse cx="1006.7" cy="1110" rx="7.5" ry="10.5" transform="rotate(18 1006.7 1110)" class="o" fill="#4b4e50" stroke-width="2"/>
<ellipse cx="1007.2" cy="1111" rx="3.5" ry="5.5" transform="rotate(18 1007.2 1111)" fill="#2b2d2e"/>
<ellipse cx="960.8" cy="1117" rx="7.5" ry="10.5" transform="rotate(18 960.8 1117)" class="o" fill="#4b4e50" stroke-width="2"/>
<ellipse cx="961.3" cy="1118" rx="3.5" ry="5.5" transform="rotate(18 961.3 1118)" fill="#2b2d2e"/>
<ellipse cx="953" cy="1019" rx="7.5" ry="10.5" transform="rotate(18 953 1019)" class="o" fill="#4b4e50" stroke-width="2"/>
<ellipse cx="953.5" cy="1020" rx="3.5" ry="5.5" transform="rotate(18 953.5 1020)" fill="#2b2d2e"/>
<ellipse cx="991.7" cy="1055.8" rx="52" ry="37" transform="rotate(-72 991.7 1055.8)" class="o" fill="#97999a" stroke-width="3.4"/>
<ellipse cx="994.6" cy="1055.4" rx="37" ry="25" transform="rotate(-72 994.6 1055.4)" class="o" fill="#3b3e40" stroke-width="2.8"/>
<ellipse cx="997" cy="1059" rx="24" ry="16" transform="rotate(-72 997 1059)" class="o" fill="#a2a4a5" stroke-width="2.6"/>
<ellipse cx="999" cy="1058.3" rx="16" ry="9" transform="rotate(-72 999 1058.3)" class="o" fill="#3e4143" stroke-width="2.6"/>
<path d="M405 600C398.3 602.5 404.2 600 411.7 615C419.2 630 438.6 669.7 450 690C461.4 710.3 472.2 726.2 480 736.7C487.8 747.2 490.9 749.1 496.7 753C502.5 756.9 508.6 761.3 515 760C521.4 758.7 533 751.4 535 745C537 738.6 532.5 728.4 526.7 721.7C520.9 715 507.8 713.1 500 705C492.2 696.9 487 685.5 480 673C473 660.5 462.7 642.2 458 630C453.3 617.8 460.8 605 452 600C443.2 595 411.7 597.5 405 600Z" class="o" fill="#45484a"/>
<path d="M428 622C427.3 624.3 424.7 617.6 433 631.7C441.3 645.8 467.7 690.3 478 706.7C488.3 723.1 491 726.8 495 730C499 733.2 503.5 730.5 502 726C500.5 721.5 496.2 719.3 486 703C475.8 686.7 449.2 642.2 441 628C432.8 613.8 439.2 619 437 618C434.8 617 428.7 619.7 428 622Z" fill="#63666a"/>
<path d="M112 260.3L112 260.3C120.5 264.2 146.6 276.1 163 284C179.4 291.9 192 300.6 210.6 307.5C229.2 314.4 254.5 320.3 274.4 325.6C294.3 330.9 320.7 337.1 330 339.4L330 339.4L300 440L280 429.7L280 429.7C265.2 420.7 219.7 394.8 191 375.6C162.3 356.4 121.7 324.6 107.8 314.4Z" class="o" fill="#86898a"/>
<path d="M112 260.3L159 235.3L159 235.3C169 240.6 199.8 258.2 219 267C238.2 275.8 255.9 281.9 274.4 288C292.9 294.1 313.7 299.3 330 303.3C346.3 307.3 365 310.6 372 312L372 312L330 339.4L330 339.4C320.7 337.1 294.3 330.9 274.4 325.6C254.5 320.3 229.2 314.4 210.6 307.5C192 300.6 179.4 291.9 163 284C146.6 276.1 120.5 264.2 112 260.3Z" class="o" fill="#b4b6b6"/>
<path d="M112 262L170 290L215 312L230 330L150 320L109 312Z" fill="#8f9293"/>
<ellipse cx="288" cy="387" rx="14" ry="15" class="o" fill="#6c6f71"/>
<path d="M421.5 354C428.4 356.7 448.9 363.1 463 370.4C477.1 377.6 490.1 387.6 506.4 397.5C522.7 407.4 538.3 416.6 560.6 430C582.9 443.4 626.8 470 640 478L640 560C626.8 553.7 576.9 530.7 560.6 522C544.4 513.3 548.5 514 542.5 507.7C536.5 501.4 533.5 493 524.5 484C515.5 475 503.4 463.7 488.3 453.5C473.2 443.3 447.6 431.6 434 422.8C420.4 414.1 411.5 404.6 407 401Z" class="o" fill="#8f9192"/>
<path d="M421.5 354C428.4 356.7 448.9 363.1 463 370.4C477.1 377.6 490.1 387.6 506.4 397.5C522.7 407.4 538.3 416.6 560.6 430C582.9 443.4 626.8 470 640 478L640 520C626.8 512.2 579.9 484.7 560.6 473C541.4 461.3 539.6 460.8 524.5 450C509.4 439.2 489 421 470 408C451 395 420.6 378 410.7 372Z" fill="#b3b5b5"/>
<path d="M410.7 372C420.6 378 451 395 470 408C489 421 509.4 439.2 524.5 450C539.6 460.8 541.4 461.3 560.6 473C579.9 484.7 626.8 512.2 640 520" fill="none" stroke="#cfd0d0" stroke-width="2.5"/>
<path d="M421.5 354C428.4 356.7 448.9 363.1 463 370.4C477.1 377.6 490.1 387.6 506.4 397.5C522.7 407.4 538.3 416.6 560.6 430C582.9 443.4 626.8 470 640 478L640 560C626.8 553.7 576.9 530.7 560.6 522C544.4 513.3 548.5 514 542.5 507.7C536.5 501.4 533.5 493 524.5 484C515.5 475 503.4 463.7 488.3 453.5C473.2 443.3 447.6 431.6 434 422.8C420.4 414.1 411.5 404.6 407 401Z" class="o" fill="none"/>
<path d="M376 446L410 425L407 453.3L396.7 465L373.3 476Z" class="o" fill="#6d7072"/>
<path d="M431.7 303.3C440.8 299.6 447.8 310.1 453.3 314C458.9 317.9 462.8 321.2 465 326.7C467.2 332.1 467 340.6 466.7 346.7C466.4 352.8 465.2 355.8 463.3 363.3C461.4 370.9 460.2 384.2 455 392C449.8 399.8 440 405.8 432 410C424 414.2 414 413.7 407 417C400 420.3 395 425 390 430C385 435 380.3 441.5 377 447C373.7 452.5 370.7 457.5 370 463C369.3 468.5 374.2 473.5 373 480C371.8 486.5 367.7 495.8 363 502C358.3 508.2 352.8 513.7 345 517C337.2 520.3 323.5 524.8 316 522C308.5 519.2 302.8 507.3 300 500C297.2 492.7 295.7 485.5 299 478C302.3 470.5 312.5 468 320 455C327.5 442 335.8 415.2 344 400C352.2 384.8 359.8 374.7 369 364C378.2 353.3 388.6 346.1 399 336C409.4 325.9 422.6 307 431.7 303.3Z" class="o" fill="#383b3d"/>
<ellipse cx="317" cy="494" rx="16" ry="17" class="o" fill="#45484a"/>
<ellipse cx="421.7" cy="373.3" rx="29" ry="39" transform="rotate(-12 421.7 373.3)" class="o" fill="#2f3234"/>
<ellipse cx="423.3" cy="379" rx="16" ry="27" transform="rotate(-12 423.3 379)" class="o" fill="#8f9192"/>
<path d="M424 352C430.5 355.1 449.3 362.8 463 370.4C476.7 378 495.2 390.6 506.4 397.5C517.6 404.4 526.1 409.6 530 412L524.5 484C518.5 478.9 503.4 463.7 488.3 453.5C473.2 443.3 446.7 431.4 434 422.8C421.3 414.2 415.7 405.5 412 402Z" fill="#8f9192"/>
<path d="M424 352C430.5 355.1 449.3 362.8 463 370.4C476.7 378 495.2 390.6 506.4 397.5C517.6 404.4 526.1 409.6 530 412L535 458C533.2 456.7 535.3 458.3 524.5 450C513.7 441.7 488.4 421 470 408C451.6 395 423.3 378 414 372Z" fill="#b3b5b5"/>
<path d="M414 372C423.3 378 451.6 395 470 408C488.4 421 513.7 441.7 524.5 450C535.3 458.3 533.2 456.7 535 458" fill="none" stroke="#cfd0d0" stroke-width="2.5"/>
<path d="M424 352C430.5 355.1 449.3 362.8 463 370.4C476.7 378 495.2 390.6 506.4 397.5C517.6 404.4 526.1 409.6 530 412" class="o" fill="none"/>
<path d="M412 402C415.7 405.5 421.3 414.2 434 422.8C446.7 431.4 473.2 443.3 488.3 453.5C503.4 463.7 518.5 478.9 524.5 484" class="o" fill="none"/>
<path d="M604 560L692 560L692 790L604 790Z" class="o" fill="#45484a"/>
<path d="M612 600L624 600L624 775L612 775Z" fill="#55585a"/>
<path d="M676 600L692 600L692 775L676 775Z" fill="#3a3d3f"/>
<path d="M604 660L692 668L692 690L650 694L604 686Z" fill="#2e3133"/>
<path d="M531.7 796.7L560 781.7L612 850L600 890Z" class="o" fill="#45484a"/>
<path d="M546 800L554 796L604 866L598 876Z" fill="#63666a"/>
<path d="M591 775L600 768L648 764L700 768L706 775L706 806L713 816L757 822L790 830L830 850L850 880L855 920L830 960L790 985L760 1010L740 1040L722 1046L716 1022L660 975L622 945L598 935L591 912L596 890L604 880L604 835L592 810Z" class="o" fill="#3f4244"/>
<path d="M592 778L706 778L706 806L713 816L757 822L748 842L720 852L700 838L665 828L650 808L636 812L632 876L604 880L604 835L592 810Z" fill="#5b5e60"/>
<path d="M607 832L628 840L630 866L610 878Z" fill="#4a4d4f"/>
<path d="M650 808L665 828L700 838L720 852L748 842" class="t" fill="none"/>
<path d="M636 812L632 876" class="t" fill="none" stroke-width="1.5"/>
<ellipse cx="648.5" cy="776" rx="57.5" ry="13" class="o" fill="#55585a"/>
<ellipse cx="648" cy="774" rx="44" ry="9.5" class="o" fill="#45484a" stroke-width="2.5"/>
<path d="M604 760L692 760L692 774L680 781L648 784L616 781L604 774Z" fill="#45484a"/>
<path d="M612 700L624 700L624 781L612 779Z" fill="#55585a"/>
<path d="M604 700L604 774" class="o" fill="none"/>
<path d="M692 700L692 774" class="o" fill="none"/>
<path d="M591 775L600 768L648 764L700 768L706 775L706 806L713 816L757 822L790 830L830 850L850 880L855 920L830 960L790 985L760 1010L740 1040L722 1046L716 1022L660 975L622 945L598 935L591 912L596 890L604 880L604 835L592 810Z" class="o" fill="none"/>
<path d="M675 934L682 930L740 992L736 1002Z" fill="#8c8e8f"/>
<ellipse cx="708" cy="898" rx="20" ry="35" transform="rotate(-14 708 898)" class="o" fill="#36393b"/>
<path d="M732.8 926.2C732.1 926.1 730 926.4 728.5 925.8C727.1 925.3 725.5 924.2 724.1 922.8C722.6 921.4 721.1 919.6 719.8 917.5C718.4 915.4 717.2 912.9 716.1 910.4C715 907.8 714.1 904.9 713.4 902.1C712.7 899.3 712.2 896.4 711.9 893.6C711.6 890.8 711.6 888 711.8 885.6C712 883.1 712.5 880.8 713.1 878.9C713.7 877 714.6 875.3 715.7 874.1C716.7 873 718.6 872.2 719.2 871.8L776 902L768 956Z" class="o" fill="#4b4e50"/>
<path d="M733 880L772 904L770 917L731 893Z" fill="#5d6062"/>
<ellipse cx="785" cy="942" rx="27" ry="35" transform="rotate(-25 785 942)" class="o" fill="#9b9d9e"/>
<ellipse cx="793" cy="948" rx="16" ry="23" transform="rotate(-25 793 948)" class="o" fill="#505355" stroke-width="2.8"/>
<path d="M726 1020L737 1025L734 1047L721 1040Z" class="t" fill="#8f9294"/>
<ellipse cx="620" cy="913" rx="29" ry="31" class="o" fill="#4b4e50"/>
<ellipse cx="616" cy="911" rx="20" ry="20" class="o" fill="#a5a7a8" stroke-width="2.5"/>
<ellipse cx="612" cy="912" rx="10" ry="10" class="o" fill="#4a4d4f" stroke-width="2"/>
<ellipse cx="611" cy="912" rx="5" ry="5" class="o" fill="#3a3d3f" stroke-width="1.5"/>
<path d="M526.7 721.7C529 717.5 536.5 715.3 541.7 715C546.9 714.7 553 716.4 558 720C563 723.6 568.7 730.6 571.7 736.7C574.7 742.8 576.1 750.7 575.8 756.7C575.5 762.8 572.6 769 570 773C567.4 777 564.2 778.2 560 781C555.8 783.8 550 791.8 545 790C540 788.2 532.8 778.3 530 770C527.2 761.7 528.5 748 528 740C527.5 732 524.4 725.9 526.7 721.7Z" class="o" fill="#383b3d"/>
<path d="M495 757C496.2 751.2 498.8 746.2 503 743C507.2 739.8 514.2 737.7 520 738C525.8 738.3 532.7 741.3 538 745C543.3 748.7 549.5 754.2 552 760C554.5 765.8 554.8 774 553 780C551.2 786 546.2 792.5 541 796C535.8 799.5 528 801.2 522 801C516 800.8 509.3 798.8 505 795C500.7 791.2 497.7 784.3 496 778C494.3 771.7 493.8 762.8 495 757Z" class="o" fill="#45484a"/>
<path d="M538 723C540.5 725.8 549.7 733.3 553 740C556.3 746.7 558.5 755.3 558 763C557.5 770.7 551.3 782.2 550 786" class="t" fill="none"/>
<ellipse cx="516" cy="774" rx="16" ry="19" transform="rotate(-15 516 774)" class="o" fill="#85888a" stroke-width="2.5"/>
<ellipse cx="512" cy="776" rx="10" ry="11" transform="rotate(-15 512 776)" class="o" fill="#55585a" stroke-width="2"/>
<path d="M810 547C814.2 546.2 827.4 557.8 833 565C838.6 572.2 842.5 582.3 843.5 590C844.5 597.7 841.1 606.5 839 611C836.9 615.5 834.5 618.8 831 617C827.5 615.2 821.8 607.8 818 600C814.2 592.2 809.3 578.8 808 570C806.7 561.2 805.8 547.8 810 547Z" class="o" fill="#505355"/>
<path d="M738 524L772 541L790 552L810 547L817.5 565L823.6 587L831 617L826.7 648L848 700L864.6 723.5L862.8 754L855.6 779.5L866.4 804.7L885 830L900 845L870 870L840 880L824.9 887.8L810.4 862.5L806.8 837L797.8 808L792.4 794L785 772L776 765L754.4 754L750 727L757 705L755 690L761 657L745 640L726 596L715 581L725 560Z" class="o" fill="#86898a"/>
<path d="M772 541L790 552L810 547L817.5 565L823.6 587L831 617L826.7 648L848 700L864.6 723.5L862.8 754L855.6 779.5L866.4 804.7L885 830L900 845L870 870L848 848L824.9 801L819.5 775.8L824.9 743L799.6 700L790 652L792.5 610L796 593L762.5 578L752 572L742.6 544Z" fill="#a3a5a6"/>
<path d="M793 669.5L817.5 652.6L826.7 648L831 660L796 682Z" fill="#6f7274"/>
<path d="M824.9 772L857 761L855.6 779.5L823 786.7Z" fill="#6f7274"/>
<path d="M752 572L796 593L814.5 584L818 598L792.5 610L760 592Z" fill="#8f9293"/>
<path d="M742.6 544L752 572L762.5 578L796 593L792.5 610L790 652L799.6 700L824.9 743L819.5 775.8L824.9 801L848 848" class="t" fill="none"/>
<path d="M738 524L772 541L790 552L810 547L817.5 565L823.6 587L831 617L826.7 648L848 700L864.6 723.5L862.8 754L855.6 779.5L866.4 804.7L885 830L900 845L870 870L840 880L824.9 887.8L810.4 862.5L806.8 837L797.8 808L792.4 794L785 772L776 765L754.4 754L750 727L757 705L755 690L761 657L745 640L726 596L715 581L725 560Z" class="o" fill="none"/>
<ellipse cx="777.6" cy="739.2" rx="25" ry="29.5" transform="rotate(-8 777.6 739.2)" class="o" fill="#56595b"/>
<ellipse cx="771.6" cy="738.2" rx="20.2" ry="25.5" transform="rotate(-8 771.6 738.2)" class="o" fill="#b3b5b6" stroke-width="3"/>
<ellipse cx="770.1" cy="737.7" rx="12.3" ry="15.8" transform="rotate(-8 770.1 737.7)" class="o" fill="#4a4d4f" stroke-width="2.6"/>
<ellipse cx="769.6" cy="737.7" rx="6.5" ry="8.7" transform="rotate(-8 769.6 737.7)" class="o" fill="#3a3d3f" stroke-width="1.8"/>
<ellipse cx="782.2" cy="837.4" rx="25" ry="27.7" transform="rotate(-8 782.2 837.4)" class="o" fill="#56595b"/>
<ellipse cx="776.2" cy="836.4" rx="20.2" ry="23.7" transform="rotate(-8 776.2 836.4)" class="o" fill="#b3b5b6" stroke-width="3"/>
<ellipse cx="774.7" cy="835.9" rx="12.3" ry="14.7" transform="rotate(-8 774.7 835.9)" class="o" fill="#4a4d4f" stroke-width="2.6"/>
<ellipse cx="774.2" cy="835.9" rx="6.5" ry="8.1" transform="rotate(-8 774.2 835.9)" class="o" fill="#3a3d3f" stroke-width="1.8"/>
<path d="M566 391.5C566 390.5 565.7 387.5 566.1 385.5C566.4 383.5 567.2 381.5 568.2 379.5C569.3 377.5 570.8 375.5 572.5 373.6C574.2 371.6 576.3 369.7 578.7 367.9C581 366 583.7 364.2 586.6 362.6C589.6 360.9 592.8 359.3 596.2 357.8C599.6 356.3 603.3 354.9 607.1 353.7C610.9 352.4 614.9 351.3 619 350.3C623.1 349.3 627.4 348.5 631.7 347.8C636 347.1 640.4 346.5 644.8 346.1C649.2 345.8 653.6 345.5 658 345.5C662.3 345.4 666.7 345.5 670.9 345.8C675.1 346 679.3 346.4 683.2 347C687.2 347.6 691 348.3 694.6 349.2C698.3 350 701.7 351.1 704.9 352.2C708 353.4 711 354.7 713.6 356.1C716.3 357.5 718.7 359 720.7 360.6C722.8 362.2 724.5 363.9 725.9 365.7C727.3 367.5 728.4 369.3 729.1 371.2C729.9 373.1 730.1 376.1 730.2 377.1" fill="none" stroke="#151515" stroke-width="23.5" stroke-linecap="butt"/>
<path d="M566 391.5C566 390.5 565.7 387.5 566.1 385.5C566.4 383.5 567.2 381.5 568.2 379.5C569.3 377.5 570.8 375.5 572.5 373.6C574.2 371.6 576.3 369.7 578.7 367.9C581 366 583.7 364.2 586.6 362.6C589.6 360.9 592.8 359.3 596.2 357.8C599.6 356.3 603.3 354.9 607.1 353.7C610.9 352.4 614.9 351.3 619 350.3C623.1 349.3 627.4 348.5 631.7 347.8C636 347.1 640.4 346.5 644.8 346.1C649.2 345.8 653.6 345.5 658 345.5C662.3 345.4 666.7 345.5 670.9 345.8C675.1 346 679.3 346.4 683.2 347C687.2 347.6 691 348.3 694.6 349.2C698.3 350 701.7 351.1 704.9 352.2C708 353.4 711 354.7 713.6 356.1C716.3 357.5 718.7 359 720.7 360.6C722.8 362.2 724.5 363.9 725.9 365.7C727.3 367.5 728.4 369.3 729.1 371.2C729.9 373.1 730.1 376.1 730.2 377.1" fill="none" stroke="#2f3234" stroke-width="18" stroke-linecap="butt"/>
<path d="M566 440.5C566 439.5 565.7 436.4 566 434.4C566.4 432.3 567.2 430.3 568.2 428.2C569.3 426.2 570.7 424.1 572.5 422.1C574.2 420.1 576.3 418.2 578.6 416.3C581 414.4 583.7 412.6 586.6 410.9C589.5 409.2 592.7 407.5 596.1 406C599.5 404.5 603.2 403.1 607 401.8C610.8 400.5 614.8 399.3 618.9 398.3C623 397.3 627.3 396.5 631.6 395.8C635.9 395.1 640.3 394.5 644.7 394.1C649.1 393.8 653.5 393.5 657.9 393.5C662.2 393.4 666.6 393.5 670.8 393.8C675 394.1 679.2 394.5 683.1 395.1C687.1 395.7 691 396.5 694.6 397.4C698.2 398.3 701.6 399.3 704.8 400.5C708 401.7 711 403.1 713.6 404.5C716.2 405.9 718.6 407.5 720.7 409.2C722.7 410.8 724.5 412.6 725.9 414.4C727.3 416.2 728.4 418.2 729.1 420.1C729.8 422.1 730.1 425.1 730.3 426.1" fill="none" stroke="#151515" stroke-width="23.5" stroke-linecap="butt"/>
<path d="M566 440.5C566 439.5 565.7 436.4 566 434.4C566.4 432.3 567.2 430.3 568.2 428.2C569.3 426.2 570.7 424.1 572.5 422.1C574.2 420.1 576.3 418.2 578.6 416.3C581 414.4 583.7 412.6 586.6 410.9C589.5 409.2 592.7 407.5 596.1 406C599.5 404.5 603.2 403.1 607 401.8C610.8 400.5 614.8 399.3 618.9 398.3C623 397.3 627.3 396.5 631.6 395.8C635.9 395.1 640.3 394.5 644.7 394.1C649.1 393.8 653.5 393.5 657.9 393.5C662.2 393.4 666.6 393.5 670.8 393.8C675 394.1 679.2 394.5 683.1 395.1C687.1 395.7 691 396.5 694.6 397.4C698.2 398.3 701.6 399.3 704.8 400.5C708 401.7 711 403.1 713.6 404.5C716.2 405.9 718.6 407.5 720.7 409.2C722.7 410.8 724.5 412.6 725.9 414.4C727.3 416.2 728.4 418.2 729.1 420.1C729.8 422.1 730.1 425.1 730.3 426.1" fill="none" stroke="#2f3234" stroke-width="18" stroke-linecap="butt"/>
<path d="M566 488.7C566 487.5 565.6 484 566 481.6C566.3 479.3 567 476.9 568.1 474.5C569.1 472.2 570.5 469.8 572.2 467.5C573.9 465.3 576 463 578.3 460.9C580.7 458.8 583.3 456.7 586.2 454.7C589.1 452.8 592.3 450.9 595.7 449.2C599.1 447.5 602.7 445.9 606.5 444.5C610.3 443.1 614.3 441.8 618.4 440.7C622.5 439.6 626.8 438.6 631.1 437.9C635.4 437.1 639.8 436.6 644.2 436.2C648.5 435.8 653 435.6 657.4 435.6C661.7 435.6 666.1 435.8 670.3 436.1C674.5 436.5 678.7 437.1 682.7 437.8C686.7 438.6 690.5 439.5 694.2 440.6C697.8 441.7 701.3 443 704.5 444.4C707.6 445.8 710.6 447.4 713.3 449.1C716 450.8 718.4 452.6 720.5 454.6C722.5 456.5 724.3 458.6 725.8 460.7C727.2 462.9 728.3 465.1 729.1 467.4C729.8 469.6 730.1 473.2 730.3 474.3" fill="none" stroke="#151515" stroke-width="23.5" stroke-linecap="butt"/>
<path d="M566 488.7C566 487.5 565.6 484 566 481.6C566.3 479.3 567 476.9 568.1 474.5C569.1 472.2 570.5 469.8 572.2 467.5C573.9 465.3 576 463 578.3 460.9C580.7 458.8 583.3 456.7 586.2 454.7C589.1 452.8 592.3 450.9 595.7 449.2C599.1 447.5 602.7 445.9 606.5 444.5C610.3 443.1 614.3 441.8 618.4 440.7C622.5 439.6 626.8 438.6 631.1 437.9C635.4 437.1 639.8 436.6 644.2 436.2C648.5 435.8 653 435.6 657.4 435.6C661.7 435.6 666.1 435.8 670.3 436.1C674.5 436.5 678.7 437.1 682.7 437.8C686.7 438.6 690.5 439.5 694.2 440.6C697.8 441.7 701.3 443 704.5 444.4C707.6 445.8 710.6 447.4 713.3 449.1C716 450.8 718.4 452.6 720.5 454.6C722.5 456.5 724.3 458.6 725.8 460.7C727.2 462.9 728.3 465.1 729.1 467.4C729.8 469.6 730.1 473.2 730.3 474.3" fill="none" stroke="#2f3234" stroke-width="18" stroke-linecap="butt"/>
<path d="M565.8 538.6C565.8 537.4 565.6 533.8 566 531.4C566.4 529 567.1 526.5 568.2 524.1C569.3 521.8 570.8 519.4 572.6 517.1C574.3 514.9 576.4 512.6 578.8 510.5C581.2 508.4 583.9 506.3 586.9 504.4C589.8 502.5 593 500.7 596.5 499.1C599.9 497.4 603.6 495.9 607.4 494.5C611.2 493.2 615.3 492 619.4 491C623.5 490 627.8 489.1 632.1 488.5C636.4 487.8 640.9 487.4 645.3 487.1C649.6 486.8 654.1 486.7 658.5 486.9C662.8 487 667.2 487.3 671.4 487.8C675.6 488.3 679.8 489 683.7 489.9C687.7 490.7 691.5 491.8 695.1 493C698.7 494.2 702.2 495.6 705.3 497.2C708.5 498.7 711.4 500.4 714.1 502.2C716.7 504 719 506 721.1 508.1C723.1 510.1 724.8 512.3 726.2 514.5C727.6 516.7 728.7 519 729.4 521.4C730 523.7 730.2 527.3 730.4 528.5" fill="none" stroke="#151515" stroke-width="23.5" stroke-linecap="butt"/>
<path d="M565.8 538.6C565.8 537.4 565.6 533.8 566 531.4C566.4 529 567.1 526.5 568.2 524.1C569.3 521.8 570.8 519.4 572.6 517.1C574.3 514.9 576.4 512.6 578.8 510.5C581.2 508.4 583.9 506.3 586.9 504.4C589.8 502.5 593 500.7 596.5 499.1C599.9 497.4 603.6 495.9 607.4 494.5C611.2 493.2 615.3 492 619.4 491C623.5 490 627.8 489.1 632.1 488.5C636.4 487.8 640.9 487.4 645.3 487.1C649.6 486.8 654.1 486.7 658.5 486.9C662.8 487 667.2 487.3 671.4 487.8C675.6 488.3 679.8 489 683.7 489.9C687.7 490.7 691.5 491.8 695.1 493C698.7 494.2 702.2 495.6 705.3 497.2C708.5 498.7 711.4 500.4 714.1 502.2C716.7 504 719 506 721.1 508.1C723.1 510.1 724.8 512.3 726.2 514.5C727.6 516.7 728.7 519 729.4 521.4C730 523.7 730.2 527.3 730.4 528.5" fill="none" stroke="#2f3234" stroke-width="18" stroke-linecap="butt"/>
<path d="M566.1 571.4C566.1 570.4 565.8 567.4 566.1 565.4C566.5 563.4 567.2 561.4 568.2 559.4C569.2 557.4 570.6 555.3 572.3 553.4C574 551.4 576.1 549.5 578.4 547.6C580.7 545.7 583.4 543.9 586.3 542.1C589.2 540.4 592.4 538.7 595.8 537.2C599.1 535.7 602.8 534.2 606.6 532.9C610.3 531.6 614.3 530.4 618.4 529.3C622.5 528.3 626.8 527.3 631.1 526.6C635.3 525.8 639.8 525.2 644.1 524.7C648.5 524.2 653 523.9 657.3 523.8C661.6 523.7 666 523.7 670.2 523.9C674.4 524 678.6 524.4 682.6 524.9C686.6 525.4 690.4 526.1 694.1 526.9C697.7 527.7 701.1 528.6 704.3 529.7C707.5 530.8 710.5 532.1 713.2 533.4C715.8 534.8 718.2 536.3 720.3 537.8C722.4 539.4 724.2 541.1 725.6 542.8C727.1 544.6 728.2 546.4 728.9 548.3C729.7 550.2 729.9 553.2 730.1 554.2" fill="none" stroke="#151515" stroke-width="23.5" stroke-linecap="butt"/>
<path d="M566.1 571.4C566.1 570.4 565.8 567.4 566.1 565.4C566.5 563.4 567.2 561.4 568.2 559.4C569.2 557.4 570.6 555.3 572.3 553.4C574 551.4 576.1 549.5 578.4 547.6C580.7 545.7 583.4 543.9 586.3 542.1C589.2 540.4 592.4 538.7 595.8 537.2C599.1 535.7 602.8 534.2 606.6 532.9C610.3 531.6 614.3 530.4 618.4 529.3C622.5 528.3 626.8 527.3 631.1 526.6C635.3 525.8 639.8 525.2 644.1 524.7C648.5 524.2 653 523.9 657.3 523.8C661.6 523.7 666 523.7 670.2 523.9C674.4 524 678.6 524.4 682.6 524.9C686.6 525.4 690.4 526.1 694.1 526.9C697.7 527.7 701.1 528.6 704.3 529.7C707.5 530.8 710.5 532.1 713.2 533.4C715.8 534.8 718.2 536.3 720.3 537.8C722.4 539.4 724.2 541.1 725.6 542.8C727.1 544.6 728.2 546.4 728.9 548.3C729.7 550.2 729.9 553.2 730.1 554.2" fill="none" stroke="#2f3234" stroke-width="18" stroke-linecap="butt"/>
<path d="M569 392C574.5 377.7 578.2 386 600 384C621.8 382 678.5 379.3 700 380C721.5 380.7 724 373 729 388C734 403 729.7 443.8 730 470C730.3 496.2 732 525.8 731 545C730 564.2 729.2 575.8 724 585C718.8 594.2 720.7 597.5 700 600C679.3 602.5 621.3 602.5 600 600C578.7 597.5 577.3 594.2 572 585C566.7 575.8 568.8 564.2 568 545C567.2 525.8 566.8 495.5 567 470C567.2 444.5 563.5 406.3 569 392Z" fill="#2d3032"/>
<path d="M605 380L692 380L692 606L680 613L648 617L616 613L605 606Z" class="o" fill="#3e4143"/>
<path d="M612 380L626 380L626 612L612 610Z" fill="#4d5052"/>
<path d="M605 446C608.3 447.7 617.8 453.8 625 456C632.2 458.2 640.2 459 648 459C655.8 459 664.7 458.2 672 456C679.3 453.8 688.7 447.7 692 446" class="t" fill="none" stroke-width="1.6"/>
<path d="M605 494C608.3 495.7 617.8 501.8 625 504C632.2 506.2 640.2 507 648 507C655.8 507 664.7 506.2 672 504C679.3 501.8 688.7 495.7 692 494" class="t" fill="none" stroke-width="1.6"/>
<path d="M605 546C608.3 547.7 617.8 553.8 625 556C632.2 558.2 640.2 559 648 559C655.8 559 664.7 558.2 672 556C679.3 553.8 688.7 547.7 692 546" class="t" fill="none" stroke-width="1.6"/>
<path d="M586.5 383C589.2 381.5 603.8 383.2 606 384.2C608.2 385.2 608.7 391.1 609 393.1C609.3 395.2 610 402.9 609 404.8C608 406.6 601 411.6 598.5 412C596 412.4 585.5 410.4 583.5 409.1C581.5 407.8 578.7 401.6 579 398.9C579.3 396.3 583.8 384.5 586.5 383Z" class="t" fill="#f6f3ec" stroke-width="2.6"/>
<path d="M584.2 432C586.5 430.7 598.6 432.3 600.5 433.2C602.4 434.1 602.8 439 603 440.8C603.2 442.5 603.9 449.1 603 450.8C602.1 452.4 596.4 456.6 594.2 457C592.1 457.4 583.4 455.6 581.8 454.5C580.1 453.4 577.8 448 578 445.8C578.2 443.5 582 433.3 584.2 432Z" class="t" fill="#f6f3ec" stroke-width="2.6"/>
<path d="M584.6 480C586.8 478.9 598.7 480.4 600.5 481.2C602.4 482 602.8 486.4 603 488.1C603.2 489.7 603.9 495.8 603 497.2C602.1 498.7 596.5 502.7 594.4 503C592.3 503.3 583.8 501.7 582.2 500.7C580.6 499.7 578.3 494.7 578.5 492.6C578.7 490.6 582.4 481.1 584.6 480Z" class="t" fill="#d9d9d5" stroke-width="2.6"/>
<path d="M583.5 530C585.8 529 598.4 530.5 600.4 531.2C602.4 531.9 602.7 535.9 603 537.4C603.3 538.8 603.9 544.4 603 545.8C602.1 547.1 596.1 550.7 593.9 551C591.7 551.3 582.6 549.8 580.9 548.9C579.2 548 576.7 543.4 577 541.5C577.3 539.7 581.2 531 583.5 530Z" class="t" fill="#a9abac" stroke-width="2.6"/>
<path d="M693 419.2C694.5 416.7 705.5 414.6 708 415C710.5 415.4 717.1 421.6 718 423.4C718.9 425.2 718.1 431.2 716.8 433.2C715.4 435.2 706.6 442.3 704.2 443C701.9 443.7 694.1 442.6 693 440.2C691.9 437.8 691.5 421.7 693 419.2Z" class="t" fill="#f6f3ec" stroke-width="2.6"/>
<path d="M693 471.5C694.5 468.8 705.5 466.6 708 467C710.5 467.4 717.1 474.1 718 476C718.9 477.9 718.1 484.4 716.8 486.5C715.4 488.6 706.6 496.2 704.2 497C701.9 497.8 694.1 496.6 693 494C691.9 491.4 691.5 474.2 693 471.5Z" class="t" fill="#f6f3ec" stroke-width="2.6"/>
<path d="M697 381.8C697.9 380.7 704.5 379.8 706 380C707.5 380.2 711.5 382.8 712 383.6C712.5 384.4 712.1 387 711.2 387.8C710.4 388.6 705.2 391.7 703.8 392C702.3 392.3 697.7 391.8 697 390.8C696.3 389.8 696.1 382.9 697 381.8Z" class="t" fill="#f6f3ec" stroke-width="2.6"/>
<path d="M729.8 373.3C729.8 374 730.3 376.1 730.2 377.6C730.2 379 730 380.5 729.6 381.9C729.2 383.4 728.6 384.9 727.8 386.3C727.1 387.8 726.1 389.3 725 390.7C723.9 392.1 722.5 393.5 721.1 394.9C719.6 396.3 718 397.7 716.2 399C714.4 400.3 712.4 401.6 710.3 402.9C708.2 404.1 706 405.3 703.6 406.5C701.2 407.6 698.7 408.7 696.1 409.7C693.5 410.8 690.8 411.7 688 412.6C685.2 413.5 682.3 414.4 679.3 415.1C676.4 415.9 673.3 416.6 670.2 417.2C667.1 417.8 664 418.3 660.8 418.8C657.6 419.2 654.4 419.6 651.2 419.9C648 420.1 644.8 420.3 641.6 420.4C638.4 420.6 635.2 420.6 632.1 420.5C628.9 420.5 625.8 420.3 622.7 420.1C619.7 419.8 616.7 419.5 613.7 419.1C610.8 418.7 608 418.2 605.2 417.7C602.5 417.1 599.8 416.5 597.3 415.8C594.8 415.1 592.4 414.3 590.1 413.4C587.8 412.5 585.7 411.6 583.7 410.6C581.7 409.6 579.8 408.6 578.1 407.4C576.4 406.3 574.9 405.2 573.5 403.9C572.2 402.7 571 401.5 570 400.2C568.9 398.9 568.1 397.5 567.5 396.1C566.8 394.8 566.3 393.3 566.1 391.9C565.8 390.5 565.8 388.3 565.8 387.6" fill="none" stroke="#151515" stroke-width="23.5" stroke-linecap="butt"/>
<path d="M729.8 373.3C729.8 374 730.3 376.1 730.2 377.6C730.2 379 730 380.5 729.6 381.9C729.2 383.4 728.6 384.9 727.8 386.3C727.1 387.8 726.1 389.3 725 390.7C723.9 392.1 722.5 393.5 721.1 394.9C719.6 396.3 718 397.7 716.2 399C714.4 400.3 712.4 401.6 710.3 402.9C708.2 404.1 706 405.3 703.6 406.5C701.2 407.6 698.7 408.7 696.1 409.7C693.5 410.8 690.8 411.7 688 412.6C685.2 413.5 682.3 414.4 679.3 415.1C676.4 415.9 673.3 416.6 670.2 417.2C667.1 417.8 664 418.3 660.8 418.8C657.6 419.2 654.4 419.6 651.2 419.9C648 420.1 644.8 420.3 641.6 420.4C638.4 420.6 635.2 420.6 632.1 420.5C628.9 420.5 625.8 420.3 622.7 420.1C619.7 419.8 616.7 419.5 613.7 419.1C610.8 418.7 608 418.2 605.2 417.7C602.5 417.1 599.8 416.5 597.3 415.8C594.8 415.1 592.4 414.3 590.1 413.4C587.8 412.5 585.7 411.6 583.7 410.6C581.7 409.6 579.8 408.6 578.1 407.4C576.4 406.3 574.9 405.2 573.5 403.9C572.2 402.7 571 401.5 570 400.2C568.9 398.9 568.1 397.5 567.5 396.1C566.8 394.8 566.3 393.3 566.1 391.9C565.8 390.5 565.8 388.3 565.8 387.6" fill="none" stroke="#404346" stroke-width="18" stroke-linecap="butt"/>
<path d="M722 389.2C721.2 390.1 718.9 392.6 716.9 394.3C715 395.9 712.8 397.5 710.4 399C708 400.6 705.4 402 702.7 403.4C699.9 404.8 696.9 406.1 693.8 407.3C690.7 408.5 687.4 409.7 684 410.7C680.7 411.7 677.1 412.6 673.5 413.4C670 414.2 666.2 414.9 662.5 415.5C658.8 416.1 655 416.5 651.2 416.9C647.4 417.2 643.6 417.4 639.9 417.5C636.1 417.6 632.3 417.5 628.7 417.3C625 417.2 621.3 416.9 617.8 416.5C614.3 416.1 610.9 415.5 607.6 414.9C604.4 414.2 601.2 413.4 598.2 412.5C595.3 411.7 592.4 410.7 589.8 409.6C587.2 408.5 584.8 407.3 582.6 406C580.4 404.7 577.7 402.6 576.7 401.9" fill="none" stroke="#4d5154" stroke-width="3"/>
<path d="M729.8 422.2C729.8 422.9 730.3 425.1 730.3 426.6C730.2 428.1 730 429.6 729.6 431.1C729.2 432.6 728.6 434.1 727.9 435.6C727.1 437.1 726.1 438.6 725 440.1C723.9 441.5 722.6 443 721.1 444.4C719.6 445.8 718 447.3 716.2 448.6C714.4 450 712.5 451.3 710.4 452.6C708.3 453.8 706 455.1 703.7 456.2C701.3 457.4 698.8 458.5 696.2 459.6C693.6 460.6 690.9 461.6 688.1 462.5C685.3 463.4 682.4 464.3 679.4 465.1C676.4 465.8 673.4 466.5 670.3 467.2C667.2 467.8 664.1 468.3 660.9 468.8C657.7 469.2 654.5 469.6 651.3 469.9C648.1 470.1 644.9 470.3 641.7 470.4C638.5 470.5 635.3 470.6 632.1 470.5C629 470.4 625.9 470.3 622.8 470C619.8 469.8 616.7 469.4 613.8 469C610.9 468.6 608.1 468.1 605.3 467.5C602.6 466.9 599.9 466.3 597.4 465.5C594.9 464.8 592.4 464 590.2 463.1C587.9 462.2 585.7 461.2 583.7 460.2C581.7 459.2 579.8 458.1 578.2 456.9C576.5 455.8 574.9 454.6 573.6 453.3C572.2 452.1 571 450.8 570 449.4C569 448.1 568.1 446.7 567.5 445.3C566.8 443.9 566.3 442.4 566.1 441C565.8 439.5 565.8 437.3 565.8 436.5" fill="none" stroke="#151515" stroke-width="23.5" stroke-linecap="butt"/>
<path d="M729.8 422.2C729.8 422.9 730.3 425.1 730.3 426.6C730.2 428.1 730 429.6 729.6 431.1C729.2 432.6 728.6 434.1 727.9 435.6C727.1 437.1 726.1 438.6 725 440.1C723.9 441.5 722.6 443 721.1 444.4C719.6 445.8 718 447.3 716.2 448.6C714.4 450 712.5 451.3 710.4 452.6C708.3 453.8 706 455.1 703.7 456.2C701.3 457.4 698.8 458.5 696.2 459.6C693.6 460.6 690.9 461.6 688.1 462.5C685.3 463.4 682.4 464.3 679.4 465.1C676.4 465.8 673.4 466.5 670.3 467.2C667.2 467.8 664.1 468.3 660.9 468.8C657.7 469.2 654.5 469.6 651.3 469.9C648.1 470.1 644.9 470.3 641.7 470.4C638.5 470.5 635.3 470.6 632.1 470.5C629 470.4 625.9 470.3 622.8 470C619.8 469.8 616.7 469.4 613.8 469C610.9 468.6 608.1 468.1 605.3 467.5C602.6 466.9 599.9 466.3 597.4 465.5C594.9 464.8 592.4 464 590.2 463.1C587.9 462.2 585.7 461.2 583.7 460.2C581.7 459.2 579.8 458.1 578.2 456.9C576.5 455.8 574.9 454.6 573.6 453.3C572.2 452.1 571 450.8 570 449.4C569 448.1 568.1 446.7 567.5 445.3C566.8 443.9 566.3 442.4 566.1 441C565.8 439.5 565.8 437.3 565.8 436.5" fill="none" stroke="#404346" stroke-width="18" stroke-linecap="butt"/>
<path d="M722.1 438.6C721.2 439.5 718.9 442.1 717 443.8C715 445.5 712.9 447.1 710.5 448.7C708.1 450.2 705.5 451.8 702.7 453.2C700 454.6 697 455.9 693.9 457.2C690.8 458.4 687.5 459.5 684.1 460.6C680.7 461.6 677.2 462.6 673.6 463.4C670 464.2 666.3 464.9 662.6 465.5C658.9 466.1 655.1 466.5 651.3 466.9C647.5 467.2 643.7 467.4 639.9 467.5C636.2 467.5 632.4 467.5 628.7 467.3C625.1 467.1 621.4 466.8 617.9 466.4C614.4 465.9 611 465.4 607.7 464.7C604.4 464 601.3 463.2 598.3 462.3C595.3 461.4 592.5 460.4 589.9 459.2C587.3 458.1 584.8 456.9 582.6 455.6C580.5 454.2 577.7 452.1 576.7 451.4" fill="none" stroke="#4d5154" stroke-width="3"/>
<path d="M729.7 469.8C729.8 470.6 730.3 473.2 730.3 474.9C730.3 476.6 730.1 478.4 729.7 480.1C729.3 481.8 728.8 483.6 728 485.3C727.3 487 726.3 488.7 725.2 490.4C724.1 492.1 722.8 493.8 721.4 495.4C719.9 497 718.3 498.6 716.5 500.1C714.7 501.7 712.8 503.2 710.7 504.6C708.6 506.1 706.4 507.5 704.1 508.8C701.7 510.1 699.2 511.4 696.6 512.5C694.1 513.7 691.3 514.8 688.6 515.9C685.8 516.9 682.9 517.8 679.9 518.7C676.9 519.5 673.9 520.3 670.8 521C667.7 521.6 664.6 522.2 661.4 522.7C658.3 523.2 655 523.6 651.8 523.8C648.6 524.1 645.4 524.3 642.2 524.4C639 524.5 635.8 524.4 632.6 524.3C629.5 524.2 626.4 524 623.3 523.6C620.2 523.3 617.2 522.9 614.3 522.4C611.4 521.8 608.5 521.2 605.7 520.5C603 519.8 600.3 519 597.8 518.1C595.2 517.2 592.8 516.2 590.5 515.2C588.2 514.1 586 512.9 584 511.7C582 510.5 580.1 509.2 578.4 507.9C576.7 506.5 575.1 505.1 573.8 503.7C572.4 502.2 571.2 500.7 570.1 499.1C569.1 497.5 568.2 495.9 567.6 494.3C566.9 492.6 566.4 491 566.1 489.3C565.8 487.6 565.8 485 565.7 484.1" fill="none" stroke="#151515" stroke-width="23.5" stroke-linecap="butt"/>
<path d="M729.7 469.8C729.8 470.6 730.3 473.2 730.3 474.9C730.3 476.6 730.1 478.4 729.7 480.1C729.3 481.8 728.8 483.6 728 485.3C727.3 487 726.3 488.7 725.2 490.4C724.1 492.1 722.8 493.8 721.4 495.4C719.9 497 718.3 498.6 716.5 500.1C714.7 501.7 712.8 503.2 710.7 504.6C708.6 506.1 706.4 507.5 704.1 508.8C701.7 510.1 699.2 511.4 696.6 512.5C694.1 513.7 691.3 514.8 688.6 515.9C685.8 516.9 682.9 517.8 679.9 518.7C676.9 519.5 673.9 520.3 670.8 521C667.7 521.6 664.6 522.2 661.4 522.7C658.3 523.2 655 523.6 651.8 523.8C648.6 524.1 645.4 524.3 642.2 524.4C639 524.5 635.8 524.4 632.6 524.3C629.5 524.2 626.4 524 623.3 523.6C620.2 523.3 617.2 522.9 614.3 522.4C611.4 521.8 608.5 521.2 605.7 520.5C603 519.8 600.3 519 597.8 518.1C595.2 517.2 592.8 516.2 590.5 515.2C588.2 514.1 586 512.9 584 511.7C582 510.5 580.1 509.2 578.4 507.9C576.7 506.5 575.1 505.1 573.8 503.7C572.4 502.2 571.2 500.7 570.1 499.1C569.1 497.5 568.2 495.9 567.6 494.3C566.9 492.6 566.4 491 566.1 489.3C565.8 487.6 565.8 485 565.7 484.1" fill="none" stroke="#404346" stroke-width="18" stroke-linecap="butt"/>
<path d="M722.3 489.2C721.5 490.2 719.2 493.2 717.3 495.1C715.3 497 713.2 498.9 710.8 500.6C708.5 502.4 705.9 504.1 703.1 505.7C700.4 507.3 697.4 508.8 694.3 510.2C691.2 511.6 688 512.9 684.6 514C681.2 515.2 677.7 516.2 674.1 517.1C670.5 518 666.8 518.8 663.1 519.4C659.4 520 655.6 520.5 651.8 520.8C648.1 521.2 644.2 521.3 640.5 521.4C636.7 521.4 632.9 521.3 629.2 521C625.6 520.8 621.9 520.4 618.4 519.8C614.9 519.3 611.4 518.6 608.1 517.7C604.9 516.9 601.7 515.9 598.7 514.8C595.7 513.7 592.9 512.5 590.2 511.2C587.6 509.8 585.2 508.4 582.9 506.8C580.7 505.3 577.9 502.7 576.9 501.9" fill="none" stroke="#4d5154" stroke-width="3"/>
<path d="M730 523.8C730 524.7 730.4 527.3 730.4 529.1C730.3 530.9 730.1 532.6 729.7 534.4C729.3 536.1 728.7 537.9 727.9 539.7C727.1 541.4 726.1 543.1 724.9 544.8C723.8 546.5 722.5 548.2 721 549.8C719.5 551.4 717.8 553 716 554.5C714.2 556 712.2 557.5 710.1 558.9C708 560.4 705.7 561.7 703.3 563C701 564.3 698.4 565.5 695.8 566.6C693.2 567.8 690.5 568.8 687.7 569.8C684.8 570.8 681.9 571.6 678.9 572.4C676 573.2 672.9 573.9 669.8 574.5C666.7 575.1 663.5 575.6 660.4 576C657.2 576.4 654 576.7 650.7 576.9C647.5 577.1 644.3 577.2 641.1 577.2C637.9 577.2 634.7 577.1 631.5 576.9C628.4 576.6 625.3 576.3 622.2 575.9C619.2 575.5 616.2 575 613.2 574.3C610.3 573.7 607.5 573 604.8 572.2C602 571.4 599.4 570.5 596.9 569.5C594.3 568.5 591.9 567.5 589.6 566.3C587.4 565.2 585.2 563.9 583.2 562.6C581.3 561.3 579.4 560 577.7 558.5C576.1 557.1 574.5 555.6 573.2 554.1C571.8 552.6 570.7 551 569.7 549.3C568.7 547.7 567.8 546 567.2 544.3C566.6 542.6 566.1 540.9 565.9 539.2C565.6 537.4 565.7 534.8 565.7 533.9" fill="none" stroke="#151515" stroke-width="23.5" stroke-linecap="butt"/>
<path d="M730 523.8C730 524.7 730.4 527.3 730.4 529.1C730.3 530.9 730.1 532.6 729.7 534.4C729.3 536.1 728.7 537.9 727.9 539.7C727.1 541.4 726.1 543.1 724.9 544.8C723.8 546.5 722.5 548.2 721 549.8C719.5 551.4 717.8 553 716 554.5C714.2 556 712.2 557.5 710.1 558.9C708 560.4 705.7 561.7 703.3 563C701 564.3 698.4 565.5 695.8 566.6C693.2 567.8 690.5 568.8 687.7 569.8C684.8 570.8 681.9 571.6 678.9 572.4C676 573.2 672.9 573.9 669.8 574.5C666.7 575.1 663.5 575.6 660.4 576C657.2 576.4 654 576.7 650.7 576.9C647.5 577.1 644.3 577.2 641.1 577.2C637.9 577.2 634.7 577.1 631.5 576.9C628.4 576.6 625.3 576.3 622.2 575.9C619.2 575.5 616.2 575 613.2 574.3C610.3 573.7 607.5 573 604.8 572.2C602 571.4 599.4 570.5 596.9 569.5C594.3 568.5 591.9 567.5 589.6 566.3C587.4 565.2 585.2 563.9 583.2 562.6C581.3 561.3 579.4 560 577.7 558.5C576.1 557.1 574.5 555.6 573.2 554.1C571.8 552.6 570.7 551 569.7 549.3C568.7 547.7 567.8 546 567.2 544.3C566.6 542.6 566.1 540.9 565.9 539.2C565.6 537.4 565.7 534.8 565.7 533.9" fill="none" stroke="#404346" stroke-width="18" stroke-linecap="butt"/>
<path d="M722 543.5C721.1 544.5 718.8 547.5 716.8 549.4C714.8 551.3 712.6 553.2 710.2 554.9C707.8 556.7 705.2 558.3 702.4 559.9C699.6 561.4 696.6 562.9 693.5 564.2C690.4 565.6 687.1 566.8 683.7 567.9C680.3 569 676.7 569.9 673.1 570.7C669.5 571.6 665.8 572.2 662.1 572.8C658.3 573.3 654.5 573.7 650.7 573.9C647 574.1 643.1 574.2 639.4 574.2C635.6 574.1 631.8 573.9 628.2 573.5C624.5 573.1 620.8 572.6 617.3 571.9C613.8 571.3 610.4 570.5 607.1 569.5C603.9 568.6 600.7 567.5 597.8 566.3C594.8 565.1 592 563.7 589.4 562.3C586.8 560.9 584.4 559.3 582.2 557.7C580 556 577.3 553.3 576.3 552.4" fill="none" stroke="#4d5154" stroke-width="3"/>
<path d="M729.6 550.3C729.7 551 730.1 553.2 730.1 554.6C730.1 556.1 729.9 557.6 729.6 559C729.2 560.5 728.6 562 727.9 563.4C727.1 564.9 726.2 566.4 725.1 567.8C724 569.3 722.7 570.7 721.3 572.2C719.8 573.6 718.2 575 716.4 576.3C714.7 577.7 712.7 579 710.6 580.3C708.6 581.6 706.3 582.8 704 584C701.7 585.2 699.2 586.3 696.6 587.4C694 588.5 691.3 589.5 688.5 590.4C685.7 591.4 682.8 592.3 679.9 593.1C676.9 593.9 673.9 594.6 670.8 595.3C667.7 595.9 664.6 596.5 661.4 597C658.3 597.5 655.1 598 651.9 598.3C648.7 598.6 645.4 598.9 642.2 599.1C639.1 599.2 635.9 599.3 632.7 599.3C629.6 599.3 626.4 599.2 623.4 599C620.3 598.8 617.3 598.6 614.4 598.2C611.5 597.9 608.6 597.4 605.9 596.9C603.1 596.4 600.4 595.8 597.9 595.1C595.4 594.5 592.9 593.7 590.6 592.9C588.3 592.1 586.2 591.2 584.2 590.2C582.1 589.3 580.3 588.2 578.5 587.2C576.8 586.1 575.3 584.9 573.9 583.7C572.5 582.5 571.3 581.3 570.3 580C569.2 578.7 568.4 577.4 567.7 576C567 574.7 566.5 573.3 566.2 571.9C565.9 570.4 565.9 568.3 565.9 567.5" fill="none" stroke="#151515" stroke-width="23.5" stroke-linecap="butt"/>
<path d="M729.6 550.3C729.7 551 730.1 553.2 730.1 554.6C730.1 556.1 729.9 557.6 729.6 559C729.2 560.5 728.6 562 727.9 563.4C727.1 564.9 726.2 566.4 725.1 567.8C724 569.3 722.7 570.7 721.3 572.2C719.8 573.6 718.2 575 716.4 576.3C714.7 577.7 712.7 579 710.6 580.3C708.6 581.6 706.3 582.8 704 584C701.7 585.2 699.2 586.3 696.6 587.4C694 588.5 691.3 589.5 688.5 590.4C685.7 591.4 682.8 592.3 679.9 593.1C676.9 593.9 673.9 594.6 670.8 595.3C667.7 595.9 664.6 596.5 661.4 597C658.3 597.5 655.1 598 651.9 598.3C648.7 598.6 645.4 598.9 642.2 599.1C639.1 599.2 635.9 599.3 632.7 599.3C629.6 599.3 626.4 599.2 623.4 599C620.3 598.8 617.3 598.6 614.4 598.2C611.5 597.9 608.6 597.4 605.9 596.9C603.1 596.4 600.4 595.8 597.9 595.1C595.4 594.5 592.9 593.7 590.6 592.9C588.3 592.1 586.2 591.2 584.2 590.2C582.1 589.3 580.3 588.2 578.5 587.2C576.8 586.1 575.3 584.9 573.9 583.7C572.5 582.5 571.3 581.3 570.3 580C569.2 578.7 568.4 577.4 567.7 576C567 574.7 566.5 573.3 566.2 571.9C565.9 570.4 565.9 568.3 565.9 567.5" fill="none" stroke="#404346" stroke-width="18" stroke-linecap="butt"/>
<path d="M722.2 566.4C721.4 567.3 719.1 569.9 717.2 571.6C715.3 573.2 713.1 574.9 710.7 576.4C708.4 578 705.8 579.5 703.1 580.9C700.3 582.4 697.4 583.7 694.3 585C691.2 586.3 687.9 587.5 684.6 588.5C681.2 589.6 677.7 590.6 674.1 591.5C670.5 592.3 666.9 593.1 663.1 593.7C659.4 594.4 655.6 594.9 651.9 595.3C648.1 595.7 644.3 596 640.5 596.1C636.8 596.3 633 596.3 629.3 596.2C625.6 596.1 622 595.8 618.5 595.5C615 595.1 611.5 594.7 608.2 594.1C605 593.5 601.8 592.7 598.8 591.9C595.8 591.1 593 590.1 590.4 589.1C587.7 588 585.3 586.9 583.1 585.7C580.9 584.4 578.1 582.3 577.1 581.7" fill="none" stroke="#4d5154" stroke-width="3"/>
<ellipse cx="647.5" cy="342.6" rx="97.7" ry="45.8" class="o" fill="#33363a"/>
<ellipse cx="647.5" cy="330.6" rx="97.7" ry="45.8" class="o" fill="#3e4144"/>
<ellipse cx="647.4" cy="326" rx="77.6" ry="34.6" class="o" fill="#323538" stroke-width="3"/>
<ellipse cx="647.4" cy="312" rx="77.6" ry="34.6" class="o" fill="#42454a" stroke-width="3"/>
<ellipse cx="646.6" cy="307" rx="44" ry="17.5" class="o" fill="#3b3e41" stroke-width="3"/>
<path d="M622.5 263L672.5 263L672.5 298L660 304L647 306L634 304L622.5 298Z" class="o" fill="#5f6264"/>
<path d="M626 270L636 273L636 302L626 298Z" fill="#85888a"/>
<ellipse cx="647.5" cy="262.5" rx="25" ry="10" class="o" fill="#6c6f71"/>
<clipPath id="ac"><path d="M300 498C303.1 499.4 308.3 501.4 318.3 506.7C328.3 512 344.2 523.1 360 530C375.8 536.9 396.1 542.8 413.3 548.3C430.5 553.8 448.9 558.8 463.3 563.3C477.8 567.8 485.6 570.5 500 575C514.5 579.5 533.3 584.9 550 590C566.7 595.1 584.7 601.9 600 605.8C615.3 609.7 627.9 612.2 641.7 613.3C655.5 614.4 672 613.4 683 612.5C694 611.6 703.8 608.8 708 608L725 620L725 674C722.2 673.9 715 673.1 708 673.3C701 673.5 694 675 683 675C672 675 655.5 674.7 641.7 673.3C627.9 671.9 615.3 670.1 600 666.7C584.7 663.3 566.7 657.5 550 653C533.3 648.5 511.7 643.3 500 640C488.3 636.7 491.7 636.6 480 633.3C468.3 630 446.7 624.7 430 620C413.3 615.3 393.9 609.5 380 605C366.1 600.5 355 596.9 346.7 593.3C338.4 589.7 338.3 589.4 330 583.3C321.7 577.2 303.7 562.6 296.7 556.7C289.7 550.8 289.4 549.5 288 548Z"/></clipPath>
<path d="M300 498C303.1 499.4 308.3 501.4 318.3 506.7C328.3 512 344.2 523.1 360 530C375.8 536.9 396.1 542.8 413.3 548.3C430.5 553.8 448.9 558.8 463.3 563.3C477.8 567.8 485.6 570.5 500 575C514.5 579.5 533.3 584.9 550 590C566.7 595.1 584.7 601.9 600 605.8C615.3 609.7 627.9 612.2 641.7 613.3C655.5 614.4 672 613.4 683 612.5C694 611.6 703.8 608.8 708 608L725 620L725 674C722.2 673.9 715 673.1 708 673.3C701 673.5 694 675 683 675C672 675 655.5 674.7 641.7 673.3C627.9 671.9 615.3 670.1 600 666.7C584.7 663.3 566.7 657.5 550 653C533.3 648.5 511.7 643.3 500 640C488.3 636.7 491.7 636.6 480 633.3C468.3 630 446.7 624.7 430 620C413.3 615.3 393.9 609.5 380 605C366.1 600.5 355 596.9 346.7 593.3C338.4 589.7 338.3 589.4 330 583.3C321.7 577.2 303.7 562.6 296.7 556.7C289.7 550.8 289.4 549.5 288 548Z" class="o" fill="#929495"/>
<g clip-path="url(#ac)">
<path d="M300 498C303.1 499.4 308.3 501.4 318.3 506.7C328.3 512 344.2 523.1 360 530C375.8 536.9 396.1 542.8 413.3 548.3C430.5 553.8 448.9 558.8 463.3 563.3C477.8 567.8 485.6 570.5 500 575C514.5 579.5 533.3 584.9 550 590C566.7 595.1 584.7 601.9 600 605.8C615.3 609.7 627.9 612.2 641.7 613.3C655.5 614.4 672 613.4 683 612.5C694 611.6 703.8 608.8 708 608L712 626C709.5 627.2 704.2 631.1 696.7 633C689.2 634.9 675.9 636.8 666.7 637.5C657.5 638.2 652.8 639 641.7 637.5C630.6 636 615.3 632.3 600 628.3C584.7 624.3 566.7 618.6 550 613.3C533.3 608 517.2 602.2 500 596.7C482.8 591.2 466.7 586.1 446.7 580C426.7 573.9 400.3 566.1 380 560C359.7 553.9 337.5 547.6 325 543.3C312.5 539 308.3 535.5 305 534Z" fill="#b4b6b6"/>
<path d="M296 560C301.7 564.3 316 578 330 586C344 594 363.3 601.8 380 608C396.7 614.2 410 617.2 430 623C450 628.8 471.7 635.2 500 643C528.3 650.8 573.3 664.2 600 670C626.7 675.8 650 676.7 660 678" fill="none" stroke="#808384" stroke-width="8"/>
<path d="M305 534C308.3 535.5 312.5 539 325 543.3C337.5 547.6 359.7 553.9 380 560C400.3 566.1 426.7 573.9 446.7 580C466.7 586.1 482.8 591.2 500 596.7C517.2 602.2 533.3 608 550 613.3C566.7 618.6 584.7 624.3 600 628.3C615.3 632.3 630.6 636 641.7 637.5C652.8 639 657.5 638.2 666.7 637.5C675.9 636.8 689.2 634.9 696.7 633C704.2 631.1 709.5 627.2 712 626" fill="none" stroke="#d2d3d3" stroke-width="2.6"/>
</g>
<path d="M300 498C303.1 499.4 308.3 501.4 318.3 506.7C328.3 512 344.2 523.1 360 530C375.8 536.9 396.1 542.8 413.3 548.3C430.5 553.8 448.9 558.8 463.3 563.3C477.8 567.8 485.6 570.5 500 575C514.5 579.5 533.3 584.9 550 590C566.7 595.1 584.7 601.9 600 605.8C615.3 609.7 627.9 612.2 641.7 613.3C655.5 614.4 672 613.4 683 612.5C694 611.6 703.8 608.8 708 608L725 620L725 674C722.2 673.9 715 673.1 708 673.3C701 673.5 694 675 683 675C672 675 655.5 674.7 641.7 673.3C627.9 671.9 615.3 670.1 600 666.7C584.7 663.3 566.7 657.5 550 653C533.3 648.5 511.7 643.3 500 640C488.3 636.7 491.7 636.6 480 633.3C468.3 630 446.7 624.7 430 620C413.3 615.3 393.9 609.5 380 605C366.1 600.5 355 596.9 346.7 593.3C338.4 589.7 338.3 589.4 330 583.3C321.7 577.2 303.7 562.6 296.7 556.7C289.7 550.8 289.4 549.5 288 548Z" class="o" fill="none"/>
<ellipse cx="769" cy="618" rx="29" ry="40" transform="rotate(-10 769 618)" class="o" fill="#4d5052"/>
<path d="M723 612L765 600L785 620L787 650L770 668L725 676Z" class="o" fill="#7d8081"/>
<ellipse cx="766" cy="630" rx="22" ry="36" transform="rotate(-10 766 630)" class="o" fill="#7b7f81" stroke-width="2.8"/>
<path d="M700 624C702.3 618 706 614.5 712 612C718 609.5 729 607.7 736 609C743 610.3 750 613.5 754 620C758 626.5 760.7 639.7 760 648C759.3 656.3 755.3 665 750 670C744.7 675 735.3 678 728 678C720.7 678 711 675 706 670C701 665 699 655.7 698 648C697 640.3 697.7 630 700 624Z" class="o" fill="#9a9c9e"/>
<ellipse cx="721.3" cy="646.3" rx="21" ry="26.5" transform="rotate(-10 721.3 646.3)" class="o" fill="#8b8e90" stroke-width="2.8"/>
<ellipse cx="719.3" cy="647.5" rx="13.3" ry="15.5" transform="rotate(-10 719.3 647.5)" class="o" fill="#5b5e60" stroke-width="2.4"/>
<ellipse cx="718.8" cy="647.3" rx="7.8" ry="10" transform="rotate(-10 718.8 647.3)" class="o" fill="#474a4c" stroke-width="2"/>
<path d="M360 306.7C365.1 303.3 377.9 297.4 383.3 295.8C388.7 294.2 401.1 292.4 406.7 293.3C412.3 294.2 427 301.2 431.7 303.3C436.4 305.4 445.4 309.5 447 311C448.6 312.5 448.7 314.1 445 316C441.3 317.9 421.4 324.4 415 327C408.6 329.6 394.9 334.6 390 338.5C385.1 342.4 376.9 353.2 373 360C369.1 366.8 360.9 388.8 357 397C353.1 405.2 344.3 422.6 340 430C335.7 437.4 324.9 454.5 320 460C315.1 465.5 299.4 472.3 298 477C296.6 481.7 306.1 494.6 308.3 500C310.5 505.4 316.3 518.2 316.7 523.3C317.1 528.4 314 539.6 311.7 543.3C309.4 547 299.7 555.4 296.7 555C293.7 554.6 286.5 544.1 286 540C285.5 535.9 292.7 524.7 292 520C291.3 515.3 283.1 503.7 280 500C276.9 496.3 269.3 487.2 265 488C260.7 488.8 251.3 506.9 243.3 506.7C235.3 506.5 202.6 488.6 196.7 486.7C190.8 484.8 192.3 491.4 192.5 490C192.7 488.6 195.9 478.1 198.3 475C200.7 471.9 207.7 466.4 213.3 463.3C218.9 460.2 239.3 451.4 246.7 448.3C254.1 445.2 272 440 276.7 436.7C281.4 433.4 285 422.8 286.7 420C288.4 417.2 288.7 415.7 291 413C293.3 410.3 302.9 403.9 306.7 396.7C310.5 389.5 319.4 360.1 323.3 351.7C327.2 343.3 335.7 330.2 340 325C344.3 319.8 354.9 310.1 360 306.7Z" class="o" fill="#b4b6b6"/>
<path d="M192.5 488C194.3 485.8 216.6 495.8 220 497C223.4 498.2 241.8 503.8 243.3 506.7C244.8 509.6 243.1 536 243 540C242.9 544 244.1 566.3 241.7 566.7C239.3 567.1 209.9 549.1 206.7 546.7C203.5 544.3 194.2 533.9 193.3 530C192.4 526.1 190.7 490.2 192.5 488Z" class="o" fill="#929496"/>
<path d="M243.3 506.7C245.2 500.3 261.4 490.3 265 490C268.6 489.7 283.8 500.2 286.7 503.3C289.6 506.4 299.2 522.8 300 526.7C300.8 530.6 298.4 547.8 296.7 550C295 552.2 282.8 552 280 553.3C277.2 554.5 266.5 563.9 263.3 565C260.1 566.1 243.4 571.6 241.7 566.7C240 561.8 241.4 513.1 243.3 506.7Z" class="o" fill="#4f5254"/>
<ellipse cx="268.3" cy="530" rx="16" ry="17" transform="rotate(-10 268.3 530)" class="o" fill="#3f4244" stroke-width="2.8"/>
<ellipse cx="266" cy="531" rx="9" ry="10" transform="rotate(-10 266 531)" class="o" fill="#4d5052" stroke-width="2"/>
<ellipse cx="265" cy="531" rx="3" ry="3.5" fill="#2e3133"/>
<path d="M870 862.5L920.6 837L947.7 855L938.6 870L918.8 873L902.5 889.6L888 907.6L870 940L850 950L837.5 934.7L844.7 907.6L857.4 880.6Z" class="o" fill="#7b7e80"/>
<path d="M893.5 873C898.6 867.5 907.2 867 911.5 867C915.8 867 920.5 869.2 919 873C917.5 876.8 907.7 883.8 902.5 889.6C897.3 895.4 891.6 905.9 888 907.6C884.4 909.3 880.1 905.8 881 900C881.9 894.2 888.4 878.5 893.5 873Z" class="o" fill="#383b3d" stroke-width="2"/>
<path d="M846.5 850L902.5 817L924 824.6L942 837L947.7 855L938.6 862.5L920.6 840L905 836L870 862.5L857.4 880.6L844.7 907.6L837.5 934.7L835 950L808.6 945L812 925.7L824.9 889.6Z" class="o" fill="#a3a5a6"/>
<path d="M846.5 850L902.5 817L924 824.6L942 837L920 832L903 828L862 853L840 885L826 925L822 945L808.6 945L812 925.7L824.9 889.6Z" fill="#b4b6b6"/>
<path d="M846.5 850L902.5 817L924 824.6L942 837L947.7 855L938.6 862.5L920.6 840L905 836L870 862.5L857.4 880.6L844.7 907.6L837.5 934.7L835 950L808.6 945L812 925.7L824.9 889.6Z" class="o" fill="none"/>
<ellipse cx="931.4" cy="848" rx="12.5" ry="13" class="o" fill="#8d9091" stroke-width="2.5"/>
<ellipse cx="933" cy="848" rx="7.5" ry="9" class="o" fill="#6f7274" stroke-width="2"/>
<path d="M793 950.4C794.1 948.4 798.4 942.7 800.7 941.7C803 940.7 813.2 938.2 817.3 939.3C821.4 940.4 839.9 950.4 844.5 953.3C849.1 956.2 863.5 968.5 866.9 969.9C870.3 971.3 878.2 967.2 881.4 968C884.6 968.8 898 976.2 900.9 978.6C903.8 981 911.2 990 912.6 994.2C914 998.4 915.5 1016.7 915.5 1023.4C915.5 1030.1 913.6 1058.6 912.6 1066.2C911.6 1073.8 906.4 1097.9 904.8 1105C903.2 1112.1 896.3 1136.7 895 1142C893.7 1147.3 893.2 1157.7 891.2 1161.5C889.2 1165.3 877.3 1179.2 873.7 1182.9C870.1 1186.6 855.6 1199.5 852.3 1201.3C849 1203.1 841.1 1203.3 838.7 1202.3C836.3 1201.3 830.6 1192.9 827 1190.6C823.4 1188.3 805.7 1180.1 799.8 1178C793.9 1175.9 767.5 1171.7 763.8 1168.3C760.1 1164.9 761.3 1145 759.9 1142C758.5 1139 750.2 1140.9 749.2 1136.2C748.2 1131.5 750.2 1096.9 749.2 1091.4C748.2 1085.9 739.8 1081.6 738.5 1077.8C737.2 1074 735.4 1055.9 735.6 1050.6C735.8 1045.3 738.9 1026.4 740.4 1021.4C741.9 1016.4 749.4 1000.6 752 997C754.6 993.4 765.2 984.5 768.6 982.5C772 980.5 786.1 977.5 788 975.7C789.9 973.9 788.5 965.4 789 963C789.5 960.6 791.9 952.4 793 950.4Z" class="o" fill="#d8392a" stroke-width="4"/>
<path d="M840.6 1031L891.2 1021.4L905 1008L914 1023.4L912.6 1066.2L904.8 1105L895 1142L891.2 1161.5L873.7 1182.9L852.3 1201.3L838.7 1202.3L829 1181L834.8 1105Z" fill="#b52e23"/>
<path d="M768.6 986.4L823 1004.9L860 1016.6L891.2 1021.4L840.6 1031L822 1027L766 1000Z" fill="#cd3426"/>
<path d="M822 1027L840.6 1031L834.8 1105L829 1181L821 1181L821 1114.8Z" fill="#e9604a"/>
<path d="M759.9 1142L797.8 1165.4L829 1181L827 1190.6L799.8 1178L763.8 1168.3Z" fill="#cd3426"/>
<path d="M793 950.4L800.7 941.7L817.3 939.3L844.5 953.3L866.9 969.9L860 985L829 976.7L800 962Z" fill="#e24a38"/>
<path d="M788 975.7L826 988.4L829 976.7" class="t" fill="none" stroke-width="2.4"/>
<path d="M829 988L829.5 978L856 992L860 1004L846.4 1002Z" class="t" fill="#3a3d3f" stroke-width="2"/>
<path d="M866.9 969.9C865.8 972.9 861.8 981.7 860 988C858.2 994.3 855.3 1003.2 856 1007.8C856.7 1012.4 860 1013.7 864 1015.6C868 1017.5 875.2 1018.1 880 1019C884.8 1019.9 890.8 1020.7 893 1021" class="t" fill="none" stroke-width="2.6"/>
<path d="M871.7 1004C873 1002 877.5 999.4 881.4 1000C885.3 1000.6 892.6 1004.9 895 1007.8C897.4 1010.7 897.6 1016.2 896 1017.5C894.4 1018.8 889 1016.6 885.3 1015.6C881.6 1014.6 876 1013.6 873.7 1011.7C871.4 1009.8 870.4 1006 871.7 1004Z" class="t" fill="#3a3d3f" stroke-width="2.2"/>
<path d="M896 1017.5C896.7 1021.2 899.8 1030.4 900 1040C900.2 1049.6 898.7 1063.3 897 1075C895.3 1086.7 891.2 1104.2 890 1110" class="t" fill="none" stroke-width="2.2"/>
<path d="M768.6 986.4L823 1004.9L860 1016.6L891.2 1021.4" class="t" fill="none" stroke-width="2.4"/>
<path d="M822 1027L840.6 1031L891.2 1021.4" class="t" fill="none" stroke-width="1.6"/>
<path d="M768.6 986.4L758 1042.8L805.6 1074L807.5 1091.4L821 1091.4" class="t" fill="none" stroke-width="2.8"/>
<path d="M749.2 1091.4C750.5 1091.7 752.2 1090.7 757 1093C761.8 1095.3 770.2 1103.7 778 1105C785.8 1106.3 798.7 1103.3 803.6 1101C808.5 1098.7 806.9 1093 807.5 1091.4" class="t" fill="none" stroke-width="2.4"/>
<ellipse cx="787" cy="1077" rx="20" ry="13" transform="rotate(28 787 1077)" class="t" fill="#7e1f18" stroke-width="2.6"/>
<ellipse cx="792" cy="1079" rx="11" ry="7" transform="rotate(28 792 1079)" fill="#3a2220"/>
<path d="M856 1077.8C859.3 1072.6 865.1 1067.9 870 1064C874.9 1060.1 882.6 1053.5 885.3 1054.5C888 1055.5 886.3 1064.8 886 1070C885.7 1075.2 885.4 1077.8 883.4 1085.6C881.4 1093.4 877.6 1111.1 873.7 1116.7C869.8 1122.3 863.6 1120.5 860 1119C856.4 1117.5 853.6 1112 852 1108C850.4 1104 849.6 1100.3 850.3 1095.3C851 1090.3 852.7 1083 856 1077.8Z" class="t" fill="#3a3d3f" stroke-width="2.6"/>
<path d="M759.9 1142L797.8 1165.4L829 1181" class="t" fill="none" stroke-width="2.4"/>
<path d="M800 1167L826 1179L828 1188L803 1177Z" fill="#7e1f18"/>
<path d="M838 1186C839 1182.3 851 1176.3 858 1172C865 1167.7 877 1159.7 880 1160C883 1160.3 880.7 1168.3 876 1174C871.3 1179.7 858.3 1192 852 1194C845.7 1196 837 1189.7 838 1186Z" fill="#7e1f18"/>
<path d="M834.8 1150C837.3 1152.5 842.5 1163.7 850 1165C857.5 1166.3 875 1159.2 880 1158" class="t" fill="none" stroke-width="2"/>
<path d="M793 950.4C794.1 948.4 798.4 942.7 800.7 941.7C803 940.7 813.2 938.2 817.3 939.3C821.4 940.4 839.9 950.4 844.5 953.3C849.1 956.2 863.5 968.5 866.9 969.9C870.3 971.3 878.2 967.2 881.4 968C884.6 968.8 898 976.2 900.9 978.6C903.8 981 911.2 990 912.6 994.2C914 998.4 915.5 1016.7 915.5 1023.4C915.5 1030.1 913.6 1058.6 912.6 1066.2C911.6 1073.8 906.4 1097.9 904.8 1105C903.2 1112.1 896.3 1136.7 895 1142C893.7 1147.3 893.2 1157.7 891.2 1161.5C889.2 1165.3 877.3 1179.2 873.7 1182.9C870.1 1186.6 855.6 1199.5 852.3 1201.3C849 1203.1 841.1 1203.3 838.7 1202.3C836.3 1201.3 830.6 1192.9 827 1190.6C823.4 1188.3 805.7 1180.1 799.8 1178C793.9 1175.9 767.5 1171.7 763.8 1168.3C760.1 1164.9 761.3 1145 759.9 1142C758.5 1139 750.2 1140.9 749.2 1136.2C748.2 1131.5 750.2 1096.9 749.2 1091.4C748.2 1085.9 739.8 1081.6 738.5 1077.8C737.2 1074 735.4 1055.9 735.6 1050.6C735.8 1045.3 738.9 1026.4 740.4 1021.4C741.9 1016.4 749.4 1000.6 752 997C754.6 993.4 765.2 984.5 768.6 982.5C772 980.5 786.1 977.5 788 975.7C789.9 973.9 788.5 965.4 789 963C789.5 960.6 791.9 952.4 793 950.4Z" class="o" fill="none" stroke-width="4"/>
<!-- leader lines -->
<g class="ld">
<path d="M773 310.8H1032.6"/>
<path d="M765.3 411H927"/>
<path d="M850.8 547.6H1009.8"/>
<path d="M304.8 652.5H345.4L384.7 605.6"/>
<path d="M377.7 847H428L497.5 777.5"/>
<path d="M440.2 973.7H464.5L563 876"/>
<path d="M503.8 1080.6H569.3L668.7 979.4"/>
<path d="M599.8 1178.7H628.7L737 1065.7"/>
<path d="M624.4 1301.4H642.9L776 1164.6"/>
<path d="M1143 1291.7L1018.3 1143" stroke-width="2"/>
</g>
<g fill="#151515" stroke="#151515" stroke-width="0.5">
<text transform="translate(243.34,140.50) scale(0.9250,1)" font-size="81.34" font-weight="bold" stroke="none">SISTEMA</text>
<text transform="translate(598.42,140.50) scale(0.8659,1)" font-size="81.34" font-weight="bold" stroke="none">DE</text>
<text transform="translate(717.38,140.50) scale(0.9093,1)" font-size="81.34" font-weight="bold" stroke="none">SUSPENSIÓN</text>
<text transform="translate(497.78,226.00) scale(0.9098,1)" font-size="79.88" font-weight="bold" stroke="none">DELANTERA</text>
<text transform="translate(1053.30,325.80) scale(0.8639,1)" font-size="45.75">AMORTIGUADOR</text>
<text transform="translate(943.50,411.10) scale(0.8468,1)" font-size="45.75">BRAZO DE CONTROL</text>
<text transform="translate(1046.96,459.40) scale(0.8428,1)" font-size="45.75">SUPERIOR</text>
<text transform="translate(1029.75,551.30) scale(0.8891,1)" font-size="45.75">MANGUETA DE</text>
<text transform="translate(1067.51,598.80) scale(0.8438,1)" font-size="45.75">DIRECCION</text>
<text transform="translate(83.88,655.80) scale(0.8519,1)" font-size="45.75">BRAZO DE</text>
<text transform="translate(92.76,703.60) scale(0.8497,1)" font-size="45.75">CONTROL</text>
<text transform="translate(84.80,751.60) scale(0.8993,1)" font-size="45.75">INFERIOR</text>
<text transform="translate(118.37,842.50) scale(0.8542,1)" font-size="45.75">BIELLETA DE</text>
<text transform="translate(128.77,891.10) scale(0.8562,1)" font-size="45.75">DIRECCIÓN</text>
<text transform="translate(100.48,986.60) scale(0.8410,1)" font-size="45.75">CUBO DE RUEDA</text>
<text transform="translate(153.31,1095.10) scale(0.8449,1)" font-size="45.75">DISCO DE FRENO</text>
<text transform="translate(250.03,1193.30) scale(0.8660,1)" font-size="45.75">PINZA DE FRENO</text>
<text transform="translate(369.33,1318.20) scale(0.8657,1)" font-size="45.75">NEUMÁTICO</text>
<text transform="translate(1088.01,1352.50) scale(0.8706,1)" font-size="45.75">NEUMÁTICO</text>
</g>
</svg>
</body>
</html>
